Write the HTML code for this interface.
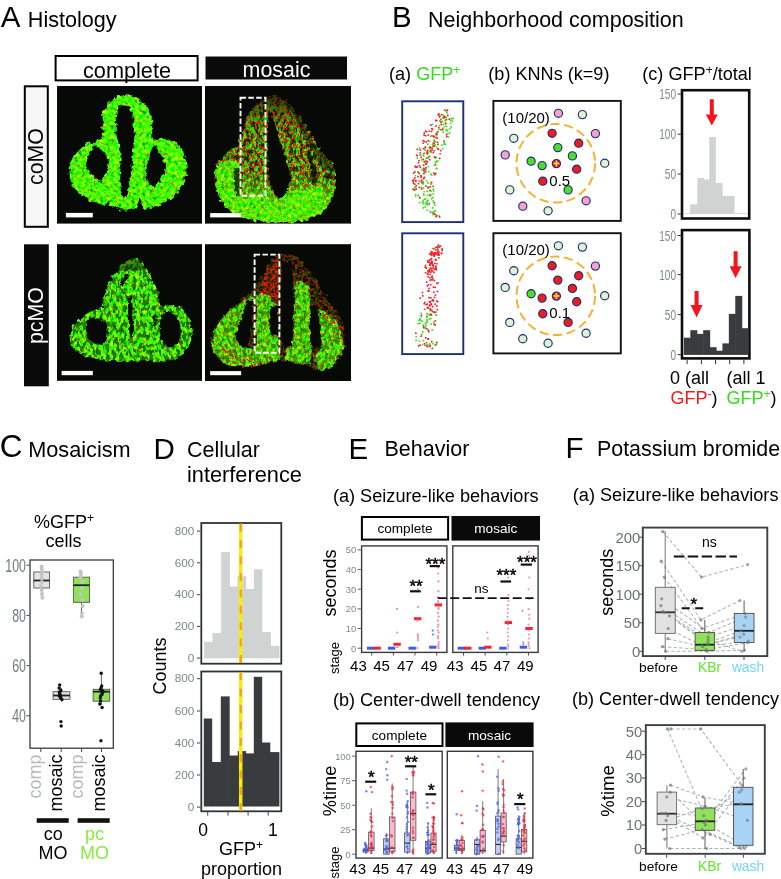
<!DOCTYPE html>
<html lang="en"><head><meta charset="utf-8"><title>Figure</title>
<style>
html,body{margin:0;padding:0;background:#fff;}
body{width:781px;height:879px;overflow:hidden;}
svg{display:block;font-family:'Liberation Sans', Arial, sans-serif;}
</style></head><body>
<svg width="781" height="879" viewBox="0 0 781 879">
<rect width="781" height="879" fill="#fff"/>
<text x="0.8" y="27.3" font-size="29.5" fill="#000" text-anchor="start" >A</text>
<text x="27.8" y="27.3" font-size="21.6" fill="#000" text-anchor="start" >Histology</text>
<text x="392" y="27" font-size="29.5" fill="#000" text-anchor="start" >B</text>
<text x="428" y="27" font-size="21.5" fill="#000" text-anchor="start" >Neighborhood composition</text>
<text x="-0.3" y="457.3" font-size="31.5" fill="#000" text-anchor="start" >C</text>
<text x="28.2" y="457" font-size="21.7" fill="#000" text-anchor="start" >Mosaicism</text>
<text x="153.5" y="458.5" font-size="29.5" fill="#000" text-anchor="start" >D</text>
<text x="187" y="456.5" font-size="21.5" fill="#000" text-anchor="start" >Cellular</text>
<text x="187" y="482" font-size="21.75" fill="#000" text-anchor="start" >interference</text>
<text x="348.5" y="458.5" font-size="29.5" fill="#000" text-anchor="start" >E</text>
<text x="384.5" y="456" font-size="21.5" fill="#000" text-anchor="start" >Behavior</text>
<text x="565.5" y="457.5" font-size="29.5" fill="#000" text-anchor="start" >F</text>
<text x="597" y="455.5" font-size="21.4" fill="#000" text-anchor="start" >Potassium bromide</text>
<g id="panelA">
<rect x="55.6" y="56" width="142" height="24.4" fill="#fff" stroke="#000" stroke-width="2"/>
<text x="127" y="77.6" font-size="21.7" fill="#000" text-anchor="middle" >complete</text>
<rect x="205.5" y="56.5" width="141.5" height="23" fill="#0a0a0a"/>
<text x="276.5" y="76.8" font-size="21.4" fill="#fff" text-anchor="middle" >mosaic</text>
<rect x="24.8" y="86.3" width="23" height="140.5" fill="#f6f6f6" stroke="#000" stroke-width="2"/>
<text x="43.2" y="156.5" font-size="21.4" fill="#000" text-anchor="middle" transform="rotate(-90 43.2 156.5)" >coMO</text>
<rect x="24" y="244.3" width="24.8" height="142" fill="#0a0a0a"/>
<text x="43.2" y="315.5" font-size="21.4" fill="#fff" text-anchor="middle" transform="rotate(-90 43.2 315.5)" >pcMO</text>
<rect x="57" y="86" width="145" height="137.6" fill="#070907"/>
<rect x="205" y="86" width="146" height="137.6" fill="#070907"/>
<rect x="57" y="244.2" width="145" height="136.6" fill="#070907"/>
<rect x="205" y="244.2" width="146" height="136.8" fill="#070907"/>
<defs>
<filter id="tis" x="-15%" y="-15%" width="130%" height="130%" color-interpolation-filters="sRGB">
  <feTurbulence type="fractalNoise" baseFrequency="0.2" numOctaves="2" seed="3" result="n"/>
  <feDisplacementMap in="SourceGraphic" in2="n" scale="7" xChannelSelector="R" yChannelSelector="G" result="d"/>
  <feTurbulence type="fractalNoise" baseFrequency="0.28" numOctaves="2" seed="8" result="n2"/>
  <feColorMatrix in="n2" type="matrix" values="2.2 0 0 0 -0.68  0 1.9 0 0 0.12  0 0 0 0 0.06  0 0 0 0 1" result="tex"/>
  <feComposite in="tex" in2="d" operator="in" result="texd"/>
  <feBlend in="texd" in2="d" mode="multiply" result="m"/>
  <feComposite in="m" in2="d" operator="in"/>
</filter>
<filter id="speck" x="-15%" y="-15%" width="130%" height="130%" color-interpolation-filters="sRGB">
  <feTurbulence type="fractalNoise" baseFrequency="0.2" numOctaves="2" seed="3" result="n"/>
  <feDisplacementMap in="SourceGraphic" in2="n" scale="7" xChannelSelector="R" yChannelSelector="G" result="d"/>
  <feTurbulence type="fractalNoise" baseFrequency="0.45" numOctaves="1" seed="21" result="n2"/>
  <feColorMatrix in="n2" type="matrix" values="0 0 0 0 0.93  0 0 0 0 0.08  0 0 0 0 0.03  10 0 0 0 -5.1" result="rs"/>
  <feComposite in="rs" in2="d" operator="in"/>
</filter>
<filter id="dspeck" x="-15%" y="-15%" width="130%" height="130%" color-interpolation-filters="sRGB">
  <feTurbulence type="fractalNoise" baseFrequency="0.2" numOctaves="2" seed="3" result="n"/>
  <feDisplacementMap in="SourceGraphic" in2="n" scale="7" xChannelSelector="R" yChannelSelector="G" result="d"/>
  <feTurbulence type="fractalNoise" baseFrequency="0.3 0.18" numOctaves="2" seed="33" result="n2"/>
  <feColorMatrix in="n2" type="matrix" values="0 0 0 0 0.03  0 0 0 0 0.035  0 0 0 0 0.03  0 9 0 0 -4.3" result="rs"/>
  <feComposite in="rs" in2="d" operator="in"/>
</filter>
<filter id="dark" x="-15%" y="-15%" width="130%" height="130%" color-interpolation-filters="sRGB">
  <feTurbulence type="fractalNoise" baseFrequency="0.25" numOctaves="2" seed="12" result="n"/>
  <feDisplacementMap in="SourceGraphic" in2="n" scale="5" xChannelSelector="R" yChannelSelector="G"/>
</filter>
<linearGradient id="g2" x1="0" y1="0" x2="0" y2="1"><stop offset="0" stop-color="#1e3206"/><stop offset="0.14" stop-color="#5ea012"/><stop offset="0.3" stop-color="#8ee016"/><stop offset="0.55" stop-color="#8ee016"/><stop offset="0.78" stop-color="#b6ff18"/><stop offset="1" stop-color="#c8ff1c"/></linearGradient>
<linearGradient id="r2" x1="0" y1="0" x2="0" y2="1"><stop offset="0" stop-color="#f00" stop-opacity="0.35"/><stop offset="0.14" stop-color="#f00" stop-opacity="1"/><stop offset="0.62" stop-color="#f00" stop-opacity="0.95"/><stop offset="0.82" stop-color="#f00" stop-opacity="0.3"/><stop offset="1" stop-color="#f00" stop-opacity="0.1"/></linearGradient>
<linearGradient id="d2" x1="0" y1="0" x2="0" y2="1"><stop offset="0" stop-color="#000" stop-opacity="0.85"/><stop offset="0.6" stop-color="#000" stop-opacity="0.8"/><stop offset="0.8" stop-color="#000" stop-opacity="0.25"/><stop offset="1" stop-color="#000" stop-opacity="0.05"/></linearGradient>
</defs>
<path d="M 122.9 95.3 C 114.6 96.2 106.2 102.7 103.4 113.8 C 101.6 123.1 102.5 132.4 103.4 138.9 C 94.1 138.9 81.1 145.4 73.7 156.6 C 68.1 165.8 68.1 178.8 73.7 187.2 C 81.1 197.4 97.8 204.8 112.7 207.6 C 118.3 209.5 127.6 210.8 131.3 208.5 C 136.8 210.8 144.3 210.4 149.8 208.5 C 164.7 204.8 177.7 195.5 184.2 182.5 C 188.8 171.4 187.0 156.6 179.5 145.4 C 174.0 138.9 162.8 138.0 152.6 139.8 C 152.6 132.4 152.1 123.1 149.8 113.8 C 146.1 102.7 136.8 95.3 129.4 94.9 Z" filter="url(#tis)" fill="#b4ff20"/>
<g filter="url(#dark)">
<path d="M 118.3 107.4 C 114.9 113.8 114.9 132.4 117.9 141.7 C 120.5 147.3 121.2 156.6 120.5 165.8 C 119.8 178.8 120.5 190.0 122.9 197.0 L 126.4 197.0 C 129.4 190.0 130.2 178.8 131.6 167.7 C 132.6 156.6 133.1 147.3 134.1 141.7 C 135.7 132.4 133.1 113.8 129.8 107.4 C 127.2 104.9 121.1 104.9 118.3 107.4 Z" fill="#070907"/>
<path d="M 95.1 145.0 C 99.7 147.3 105.6 153.8 109.0 160.6 C 108.2 168.6 104.9 177.0 100.4 181.1 C 95.1 179.8 88.9 173.3 85.8 165.8 C 87.1 157.5 90.4 149.1 95.1 145.0 Z" fill="#070907"/>
<path d="M 153.2 143.2 C 158.7 149.1 164.7 160.3 166.2 167.7 C 162.8 176.0 158.2 184.4 154.5 187.7 C 149.8 184.4 146.1 178.5 144.6 172.3 C 147.6 163.1 150.8 152.8 153.2 143.2 Z" fill="#070907"/>
<path d="M 101.6 212.3 L 107.9 200.2 L 112.7 212.6 Z M 135.0 213.2 L 139.8 197.0 L 144.6 213.2 Z" fill="#070907"/>
</g>
<rect x="65.9" y="212.9" width="26.9" height="4.5" fill="#fff"/>
<path d="M 269.5 96.3 C 261.1 101.0 251.7 108.4 248.0 115.9 C 243.3 125.3 241.5 134.6 238.7 144.0 C 229.3 151.4 218.1 158.9 215.3 168.3 C 212.5 183.2 218.1 198.2 225.6 207.5 C 234.9 216.9 257.3 222.5 279.8 222.5 C 298.5 222.1 313.4 218.7 322.8 213.1 C 332.1 201.9 336.8 187.0 335.9 172.0 C 334.0 162.6 326.5 157.0 320.9 151.4 C 315.3 142.1 306.0 123.4 294.7 110.3 C 289.1 102.8 279.8 97.2 276.0 96.3 Z" filter="url(#tis)" fill="url(#g2)"/>
<path d="M 269.5 96.3 C 261.1 101.0 251.7 108.4 248.0 115.9 C 243.3 125.3 241.5 134.6 238.7 144.0 C 229.3 151.4 218.1 158.9 215.3 168.3 C 212.5 183.2 218.1 198.2 225.6 207.5 C 234.9 216.9 257.3 222.5 279.8 222.5 C 298.5 222.1 313.4 218.7 322.8 213.1 C 332.1 201.9 336.8 187.0 335.9 172.0 C 334.0 162.6 326.5 157.0 320.9 151.4 C 315.3 142.1 306.0 123.4 294.7 110.3 C 289.1 102.8 279.8 97.2 276.0 96.3 Z" filter="url(#dspeck)" fill="url(#d2)"/>
<path d="M 269.5 96.3 C 261.1 101.0 251.7 108.4 248.0 115.9 C 243.3 125.3 241.5 134.6 238.7 144.0 C 229.3 151.4 218.1 158.9 215.3 168.3 C 212.5 183.2 218.1 198.2 225.6 207.5 C 234.9 216.9 257.3 222.5 279.8 222.5 C 298.5 222.1 313.4 218.7 322.8 213.1 C 332.1 201.9 336.8 187.0 335.9 172.0 C 334.0 162.6 326.5 157.0 320.9 151.4 C 315.3 142.1 306.0 123.4 294.7 110.3 C 289.1 102.8 279.8 97.2 276.0 96.3 Z" filter="url(#speck)" fill="url(#r2)"/>
<g filter="url(#tis)">
<path d="M 216.2 166.4 C 223.7 159.8 233.0 159.8 239.0 163.6 L 240.5 198.2 L 279.8 201.0 L 291.0 192.6 L 320.9 187.0 L 326.5 205.6 C 317.2 216.9 298.5 221.5 279.8 222.1 C 257.3 222.1 234.9 216.9 225.6 207.5 C 218.1 198.2 213.4 183.2 216.2 166.4 Z" fill="#b4ff20"/>
</g>
<path d="M 216.2 166.4 C 223.7 159.8 233.0 159.8 239.0 163.6 L 240.5 198.2 L 279.8 201.0 L 291.0 192.6 L 320.9 187.0 L 326.5 205.6 C 317.2 216.9 298.5 221.5 279.8 222.1 C 257.3 222.1 234.9 216.9 225.6 207.5 C 218.1 198.2 213.4 183.2 216.2 166.4 Z" filter="url(#speck)" fill="#f00" fill-opacity="0.22"/>
<g filter="url(#dark)">
<path d="M 268.6 110.3 C 267.6 132.7 266.7 157.0 268.2 173.9 C 269.5 187.0 275.1 198.2 279.8 198.2 C 285.4 197.2 290.1 187.0 290.1 175.7 C 287.3 160.8 279.8 142.1 274.5 123.4 C 272.3 115.9 270.4 112.2 268.6 110.3 Z" fill="#070907"/>
<path d="M 234.9 168.3 C 233.0 177.6 234.0 187.0 236.8 196.3 L 239.8 196.3 L 239.8 168.3 Z" fill="#070907" opacity="0.75"/>
<path d="M 308.8 149.6 C 313.4 158.9 317.2 170.1 316.8 183.2 L 311.6 184.1 C 311.9 172.0 309.7 160.8 306.0 153.3 Z" fill="#070907" opacity="0.8"/>
<path d="M 324.6 173.9 L 334.0 175.7 L 332.1 179.5 L 324.6 177.6 Z" fill="#070907" opacity="0.8"/>
<path d="M 292.9 106.6 C 302.2 117.8 309.7 134.6 317.2 147.7 C 324.6 155.2 334.0 162.6 336.2 172.0 L 324.6 170.1 C 317.2 160.8 309.7 147.7 304.1 136.5 C 298.5 123.4 292.9 114.0 287.3 104.7 Z" fill="#070907" opacity="0.5"/>
</g>
<rect x="240.5" y="97.7" width="25" height="98.1" fill="none" stroke="#fff" stroke-width="1.9" stroke-dasharray="5.5 2.35"/>
<rect x="210.2" y="213.1" width="30.9" height="4.3" fill="#fff"/>
<path d="M 131.3 257.4 C 125.7 260.7 118.3 268.1 109.9 280.2 C 105.6 290.4 103.4 299.7 101.6 307.1 C 94.1 309.9 81.1 316.4 73.3 325.7 C 68.1 335.0 70.0 346.1 77.4 351.7 C 88.6 358.2 103.4 361.0 112.7 361.0 L 149.8 361.3 C 161.0 361.3 170.3 360.6 176.8 358.7 C 187.0 351.7 193.5 340.5 192.5 329.4 C 191.6 318.3 185.1 309.0 175.8 306.2 C 170.3 304.9 164.7 305.6 160.6 307.1 C 159.1 297.8 156.3 286.7 151.7 277.4 C 148.0 268.1 140.5 259.8 135.0 257.4 Z" filter="url(#tis)" fill="#b4ff20"/>
<path d="M 131.3 257.4 C 125.7 260.7 118.3 268.1 109.9 280.2 C 105.6 290.4 103.4 299.7 101.6 307.1 C 94.1 309.9 81.1 316.4 73.3 325.7 C 68.1 335.0 70.0 346.1 77.4 351.7 C 88.6 358.2 103.4 361.0 112.7 361.0 L 149.8 361.3 C 161.0 361.3 170.3 360.6 176.8 358.7 C 187.0 351.7 193.5 340.5 192.5 329.4 C 191.6 318.3 185.1 309.0 175.8 306.2 C 170.3 304.9 164.7 305.6 160.6 307.1 C 159.1 297.8 156.3 286.7 151.7 277.4 C 148.0 268.1 140.5 259.8 135.0 257.4 Z" filter="url(#dspeck)" fill="#000" fill-opacity="0.55"/>
<g filter="url(#dark)">
<path d="M 90.0 317.9 C 96.0 317.3 103.4 320.1 106.2 323.8 C 109.0 331.3 108.1 338.7 104.3 342.4 C 98.8 346.1 92.3 344.3 88.6 339.6 C 83.9 333.1 84.8 322.0 90.0 317.9 Z" fill="#070907"/>
<path d="M 163.8 312.3 C 170.3 309.9 177.7 314.6 179.9 323.8 C 182.3 333.1 180.5 342.4 174.0 346.5 C 168.4 348.3 162.8 345.2 161.0 338.7 C 159.1 329.4 159.1 318.3 163.8 312.3 Z" fill="#070907"/>
<path d="M 125.7 273.7 L 129.8 271.8 C 127.6 279.3 124.8 283.0 122.4 285.8 L 119.8 283.9 C 122.4 281.1 124.2 277.4 125.7 273.7 Z" fill="#070907"/>
<path d="M 128.1 296.0 L 131.6 295.1 C 132.2 309.0 133.5 323.8 132.8 336.8 L 129.8 337.8 C 129.4 323.8 127.6 309.0 128.1 296.0 Z" fill="#070907"/>
<path d="M 153.5 315.5 L 156.9 314.6 L 156.3 325.7 L 153.5 326.6 Z" fill="#070907" opacity="0.85"/>
<path d="M 131.3 257.4 C 125.7 260.7 120.1 266.3 116.4 270.9 L 146.1 269.1 C 142.4 262.6 138.7 258.9 135.0 257.4 Z" fill="#070907" opacity="0.45"/>
</g>
<rect x="61.6" y="370.9" width="31.2" height="4.3" fill="#fff"/>
<path d="M 279.8 253.3 C 270.4 260.8 261.1 273.9 251.7 292.6 C 238.7 302.0 220.0 313.2 212.5 331.9 C 207.8 345.0 216.2 359.9 229.3 367.4 C 246.1 367.4 264.8 365.5 279.8 360.8 C 292.9 361.8 306.0 365.5 317.2 371.1 C 328.4 371.1 339.6 363.6 344.3 348.7 C 347.1 333.7 341.5 318.8 332.1 307.6 C 324.6 292.6 309.7 268.3 294.7 255.2 Z" filter="url(#tis)" fill="#2c420a"/>
<path d="M 279.8 253.3 C 270.4 260.8 261.1 273.9 251.7 292.6 C 238.7 302.0 220.0 313.2 212.5 331.9 C 207.8 345.0 216.2 359.9 229.3 367.4 C 246.1 367.4 264.8 365.5 279.8 360.8 C 292.9 361.8 306.0 365.5 317.2 371.1 C 328.4 371.1 339.6 363.6 344.3 348.7 C 347.1 333.7 341.5 318.8 332.1 307.6 C 324.6 292.6 309.7 268.3 294.7 255.2 Z" filter="url(#dspeck)" fill="#000"/>
<path d="M 279.8 253.3 C 270.4 260.8 261.1 273.9 251.7 292.6 C 238.7 302.0 220.0 313.2 212.5 331.9 C 207.8 345.0 216.2 359.9 229.3 367.4 C 246.1 367.4 264.8 365.5 279.8 360.8 C 292.9 361.8 306.0 365.5 317.2 371.1 C 328.4 371.1 339.6 363.6 344.3 348.7 C 347.1 333.7 341.5 318.8 332.1 307.6 C 324.6 292.6 309.7 268.3 294.7 255.2 Z" filter="url(#speck)" fill="#f00" fill-opacity="0.6"/>
<g filter="url(#tis)">
<path d="M 251.7 295.4 C 238.7 302.0 221.8 313.2 213.4 331.9 C 208.7 345.0 216.2 359.0 229.3 366.5 C 246.1 366.5 264.8 364.6 279.8 359.9 L 279.8 349.6 L 254.5 349.6 C 248.0 348.7 245.2 341.2 246.1 331.9 C 247.1 318.8 249.9 305.7 254.0 298.2 Z" fill="#b4ff20"/>
<path d="M 256.4 293.5 L 268.6 294.5 L 277.0 305.7 L 278.8 352.4 L 255.5 352.4 Z" fill="#b4ff20"/>
<path d="M 294.7 281.4 C 302.2 279.5 308.8 285.1 310.6 294.5 L 311.6 363.6 C 304.1 365.5 292.9 363.6 284.5 360.8 L 287.3 348.7 L 292.9 345.0 Z" fill="#b4ff20"/>
<path d="M 319.0 309.4 C 328.4 309.4 341.5 322.5 343.7 341.2 C 343.3 358.0 332.1 370.2 318.1 370.8 L 313.4 356.2 L 320.9 348.7 Z" fill="#b4ff20"/>
</g>
<path d="M 279.8 253.3 C 270.4 260.8 261.1 273.9 251.7 292.6 C 238.7 302.0 220.0 313.2 212.5 331.9 C 207.8 345.0 216.2 359.9 229.3 367.4 C 246.1 367.4 264.8 365.5 279.8 360.8 C 292.9 361.8 306.0 365.5 317.2 371.1 C 328.4 371.1 339.6 363.6 344.3 348.7 C 347.1 333.7 341.5 318.8 332.1 307.6 C 324.6 292.6 309.7 268.3 294.7 255.2 Z" filter="url(#dspeck)" fill="#000" fill-opacity="0.4"/>
<path d="M 279.8 253.3 C 270.4 260.8 261.1 273.9 251.7 292.6 C 238.7 302.0 220.0 313.2 212.5 331.9 C 207.8 345.0 216.2 359.9 229.3 367.4 C 246.1 367.4 264.8 365.5 279.8 360.8 C 292.9 361.8 306.0 365.5 317.2 371.1 C 328.4 371.1 339.6 363.6 344.3 348.7 C 347.1 333.7 341.5 318.8 332.1 307.6 C 324.6 292.6 309.7 268.3 294.7 255.2 Z" filter="url(#speck)" fill="#f00" fill-opacity="0.3"/>
<path d="M 279.8 255.2 C 273.2 261.8 267.6 271.1 262.0 282.3 L 262.0 293.5 L 269.5 296.3 L 279.4 304.8 L 281.3 261.8 Z" filter="url(#tis)" fill="#ff2a1a" opacity="0.6"/>
<path d="M 279.8 253.3 C 272.3 260.8 266.7 270.2 261.1 281.4 L 261.1 294.5 L 269.5 297.3 L 279.8 305.7 L 281.6 260.8 Z" filter="url(#speck)" fill="#f00"/>
<path d="M 324.6 309.4 C 335.9 316.9 344.3 328.1 344.3 341.2 L 335.9 337.5 C 334.0 328.1 328.4 318.8 320.9 315.0 Z" filter="url(#speck)" fill="#f00"/>
<path d="M 216.2 341.2 C 227.4 348.7 242.4 356.2 261.1 358.0 L 261.1 365.5 L 229.3 366.5 Z" filter="url(#speck)" fill="#f60" fill-opacity="0.9"/>
<g filter="url(#dark)">
<path d="M 281.6 260.8 C 279.8 281.4 279.8 318.8 282.0 345.0 L 291.4 345.9 C 293.8 318.8 294.4 281.4 291.9 261.8 Z" fill="#070907"/>
<path d="M 247.1 300.1 C 244.3 309.4 240.5 322.5 235.8 331.9 C 234.9 341.2 238.7 348.7 248.0 347.8 L 251.7 326.3 L 253.2 300.1 Z" fill="#070907"/>
<path d="M 311.2 305.7 C 308.8 318.8 309.7 337.5 312.5 349.6 L 320.5 347.8 C 321.3 333.7 319.0 318.8 316.2 306.6 Z" fill="#070907"/>
<path d="M 270.8 305.7 C 268.9 315.0 268.9 326.3 270.8 334.7 L 278.3 334.7 L 278.3 305.7 Z" fill="#070907"/>
</g>
<rect x="254.6" y="254.6" width="24.8" height="98.1" fill="none" stroke="#fff" stroke-width="1.9" stroke-dasharray="5.5 2.35"/>
<rect x="210.2" y="371.1" width="30.9" height="4.1" fill="#fff"/>
</g>
<g id="panelB">
<text x="389" y="80" font-size="18.1" fill="#000" text-anchor="start" >(a) <tspan fill="#35dc1e">GFP</tspan><tspan fill="#35dc1e" dy="-6" font-size="12">+</tspan></text>
<text x="488.3" y="80" font-size="18.1" fill="#000" text-anchor="start" >(b) KNNs (k=9)</text>
<text x="642.3" y="80" font-size="18.1" fill="#000" text-anchor="start" >(c) GFP<tspan dy="-6" font-size="12">+</tspan><tspan dy="6">/total</tspan></text>
<rect x="402.2" y="101.3" width="61.1" height="120.8" fill="#fff" stroke="#1b2f7c" stroke-width="1.9"/>
<rect x="402.2" y="233.3" width="61.1" height="120.8" fill="#fff" stroke="#1b2f7c" stroke-width="1.9"/>
<rect x="493.4" y="100.9" width="127.4" height="120" fill="#fff" stroke="#111" stroke-width="1.9"/>
<rect x="493.4" y="233.2" width="127.4" height="120.2" fill="#fff" stroke="#111" stroke-width="1.9"/>
<rect x="431.1" y="135.1" width="1.7" height="1.7" rx="0.5" fill="#f5222a"/>
<rect x="445.3" y="116.3" width="1.7" height="1.7" rx="0.5" fill="#3fe01f"/>
<rect x="425.9" y="160.4" width="1.7" height="1.7" rx="0.5" fill="#f5222a"/>
<rect x="422.9" y="178.3" width="1.7" height="1.7" rx="0.5" fill="#3fe01f"/>
<rect x="443.9" y="116.2" width="1.7" height="1.7" rx="0.5" fill="#3fe01f"/>
<rect x="435.5" y="160.6" width="1.7" height="1.7" rx="0.5" fill="#3fe01f"/>
<rect x="427.4" y="152.2" width="1.7" height="1.7" rx="0.5" fill="#3fe01f"/>
<rect x="435.8" y="119.8" width="1.7" height="1.7" rx="0.5" fill="#f5222a"/>
<rect x="422.7" y="177.4" width="1.7" height="1.7" rx="0.5" fill="#f5222a"/>
<rect x="433.0" y="172.9" width="1.7" height="1.7" rx="0.5" fill="#3fe01f"/>
<rect x="429.8" y="182.2" width="1.7" height="1.7" rx="0.5" fill="#3fe01f"/>
<rect x="417.2" y="171.1" width="1.7" height="1.7" rx="0.5" fill="#f5222a"/>
<rect x="443.2" y="140.2" width="1.7" height="1.7" rx="0.5" fill="#f5222a"/>
<rect x="418.6" y="196.3" width="1.7" height="1.7" rx="0.5" fill="#3fe01f"/>
<rect x="437.4" y="114.0" width="1.7" height="1.7" rx="0.5" fill="#f5222a"/>
<rect x="422.8" y="164.2" width="1.7" height="1.7" rx="0.5" fill="#f5222a"/>
<rect x="437.1" y="130.7" width="1.7" height="1.7" rx="0.5" fill="#3fe01f"/>
<rect x="443.2" y="143.3" width="1.7" height="1.7" rx="0.5" fill="#3fe01f"/>
<rect x="427.4" y="165.8" width="1.7" height="1.7" rx="0.5" fill="#3fe01f"/>
<rect x="431.8" y="211.5" width="1.7" height="1.7" rx="0.5" fill="#3fe01f"/>
<rect x="432.6" y="142.0" width="1.7" height="1.7" rx="0.5" fill="#f5222a"/>
<rect x="415.7" y="154.4" width="1.7" height="1.7" rx="0.5" fill="#f5222a"/>
<rect x="443.4" y="115.7" width="1.7" height="1.7" rx="0.5" fill="#f5222a"/>
<rect x="414.4" y="186.1" width="1.7" height="1.7" rx="0.5" fill="#3fe01f"/>
<rect x="435.1" y="136.5" width="1.7" height="1.7" rx="0.5" fill="#f5222a"/>
<rect x="424.2" y="149.4" width="1.7" height="1.7" rx="0.5" fill="#3fe01f"/>
<rect x="446.2" y="112.1" width="1.7" height="1.7" rx="0.5" fill="#3fe01f"/>
<rect x="432.9" y="135.2" width="1.7" height="1.7" rx="0.5" fill="#f5222a"/>
<rect x="441.0" y="144.2" width="1.7" height="1.7" rx="0.5" fill="#3fe01f"/>
<rect x="442.2" y="127.6" width="1.7" height="1.7" rx="0.5" fill="#f5222a"/>
<rect x="436.2" y="133.7" width="1.7" height="1.7" rx="0.5" fill="#3fe01f"/>
<rect x="445.7" y="129.2" width="1.7" height="1.7" rx="0.5" fill="#3fe01f"/>
<rect x="424.6" y="146.8" width="1.7" height="1.7" rx="0.5" fill="#f5222a"/>
<rect x="428.2" y="146.9" width="1.7" height="1.7" rx="0.5" fill="#3fe01f"/>
<rect x="450.2" y="126.2" width="1.7" height="1.7" rx="0.5" fill="#3fe01f"/>
<rect x="435.7" y="156.5" width="1.7" height="1.7" rx="0.5" fill="#3fe01f"/>
<rect x="420.6" y="181.3" width="1.7" height="1.7" rx="0.5" fill="#f5222a"/>
<rect x="430.0" y="173.2" width="1.7" height="1.7" rx="0.5" fill="#3fe01f"/>
<rect x="422.4" y="207.1" width="1.7" height="1.7" rx="0.5" fill="#3fe01f"/>
<rect x="432.7" y="141.8" width="1.7" height="1.7" rx="0.5" fill="#3fe01f"/>
<rect x="417.2" y="175.8" width="1.7" height="1.7" rx="0.5" fill="#f5222a"/>
<rect x="417.3" y="194.3" width="1.7" height="1.7" rx="0.5" fill="#3fe01f"/>
<rect x="449.1" y="127.8" width="1.7" height="1.7" rx="0.5" fill="#3fe01f"/>
<rect x="425.0" y="203.0" width="1.7" height="1.7" rx="0.5" fill="#3fe01f"/>
<rect x="424.8" y="160.6" width="1.7" height="1.7" rx="0.5" fill="#f5222a"/>
<rect x="426.4" y="202.2" width="1.7" height="1.7" rx="0.5" fill="#3fe01f"/>
<rect x="421.0" y="179.6" width="1.7" height="1.7" rx="0.5" fill="#f5222a"/>
<rect x="423.8" y="169.6" width="1.7" height="1.7" rx="0.5" fill="#f5222a"/>
<rect x="420.3" y="175.0" width="1.7" height="1.7" rx="0.5" fill="#f5222a"/>
<rect x="427.6" y="156.2" width="1.7" height="1.7" rx="0.5" fill="#f5222a"/>
<rect x="415.5" y="184.7" width="1.7" height="1.7" rx="0.5" fill="#f5222a"/>
<rect x="441.9" y="117.0" width="1.7" height="1.7" rx="0.5" fill="#3fe01f"/>
<rect x="433.3" y="149.9" width="1.7" height="1.7" rx="0.5" fill="#f5222a"/>
<rect x="430.9" y="197.7" width="1.7" height="1.7" rx="0.5" fill="#3fe01f"/>
<rect x="413.7" y="189.0" width="1.7" height="1.7" rx="0.5" fill="#f5222a"/>
<rect x="438.6" y="124.8" width="1.7" height="1.7" rx="0.5" fill="#3fe01f"/>
<rect x="445.4" y="128.7" width="1.7" height="1.7" rx="0.5" fill="#3fe01f"/>
<rect x="412.8" y="172.2" width="1.7" height="1.7" rx="0.5" fill="#f5222a"/>
<rect x="427.2" y="187.0" width="1.7" height="1.7" rx="0.5" fill="#f5222a"/>
<rect x="432.9" y="144.5" width="1.7" height="1.7" rx="0.5" fill="#f5222a"/>
<rect x="420.4" y="176.2" width="1.7" height="1.7" rx="0.5" fill="#f5222a"/>
<rect x="418.6" y="147.3" width="1.7" height="1.7" rx="0.5" fill="#3fe01f"/>
<rect x="419.4" y="154.1" width="1.7" height="1.7" rx="0.5" fill="#f5222a"/>
<rect x="421.1" y="182.5" width="1.7" height="1.7" rx="0.5" fill="#3fe01f"/>
<rect x="445.6" y="125.5" width="1.7" height="1.7" rx="0.5" fill="#3fe01f"/>
<rect x="425.7" y="157.4" width="1.7" height="1.7" rx="0.5" fill="#f5222a"/>
<rect x="437.1" y="143.5" width="1.7" height="1.7" rx="0.5" fill="#f5222a"/>
<rect x="429.4" y="185.9" width="1.7" height="1.7" rx="0.5" fill="#f5222a"/>
<rect x="435.3" y="132.9" width="1.7" height="1.7" rx="0.5" fill="#f5222a"/>
<rect x="437.6" y="148.4" width="1.7" height="1.7" rx="0.5" fill="#f5222a"/>
<rect x="431.0" y="174.4" width="1.7" height="1.7" rx="0.5" fill="#3fe01f"/>
<rect x="434.6" y="161.6" width="1.7" height="1.7" rx="0.5" fill="#3fe01f"/>
<rect x="432.3" y="213.7" width="1.7" height="1.7" rx="0.5" fill="#3fe01f"/>
<rect x="429.7" y="135.5" width="1.7" height="1.7" rx="0.5" fill="#3fe01f"/>
<rect x="431.9" y="207.1" width="1.7" height="1.7" rx="0.5" fill="#3fe01f"/>
<rect x="445.3" y="118.6" width="1.7" height="1.7" rx="0.5" fill="#3fe01f"/>
<rect x="417.6" y="182.7" width="1.7" height="1.7" rx="0.5" fill="#f5222a"/>
<rect x="448.8" y="132.1" width="1.7" height="1.7" rx="0.5" fill="#3fe01f"/>
<rect x="444.4" y="122.2" width="1.7" height="1.7" rx="0.5" fill="#3fe01f"/>
<rect x="439.4" y="119.8" width="1.7" height="1.7" rx="0.5" fill="#3fe01f"/>
<rect x="436.8" y="141.4" width="1.7" height="1.7" rx="0.5" fill="#f5222a"/>
<rect x="412.6" y="182.4" width="1.7" height="1.7" rx="0.5" fill="#f5222a"/>
<rect x="422.7" y="187.3" width="1.7" height="1.7" rx="0.5" fill="#3fe01f"/>
<rect x="441.7" y="128.7" width="1.7" height="1.7" rx="0.5" fill="#f5222a"/>
<rect x="433.8" y="145.3" width="1.7" height="1.7" rx="0.5" fill="#3fe01f"/>
<rect x="421.1" y="159.0" width="1.7" height="1.7" rx="0.5" fill="#3fe01f"/>
<rect x="423.3" y="168.3" width="1.7" height="1.7" rx="0.5" fill="#3fe01f"/>
<rect x="440.8" y="113.8" width="1.7" height="1.7" rx="0.5" fill="#f5222a"/>
<rect x="432.1" y="145.4" width="1.7" height="1.7" rx="0.5" fill="#f5222a"/>
<rect x="425.4" y="201.3" width="1.7" height="1.7" rx="0.5" fill="#3fe01f"/>
<rect x="415.3" y="188.3" width="1.7" height="1.7" rx="0.5" fill="#f5222a"/>
<rect x="424.6" y="197.9" width="1.7" height="1.7" rx="0.5" fill="#3fe01f"/>
<rect x="419.4" y="166.6" width="1.7" height="1.7" rx="0.5" fill="#f5222a"/>
<rect x="432.0" y="196.6" width="1.7" height="1.7" rx="0.5" fill="#3fe01f"/>
<rect x="434.8" y="172.6" width="1.7" height="1.7" rx="0.5" fill="#f5222a"/>
<rect x="428.4" y="202.8" width="1.7" height="1.7" rx="0.5" fill="#f5222a"/>
<rect x="422.8" y="193.0" width="1.7" height="1.7" rx="0.5" fill="#3fe01f"/>
<rect x="424.8" y="130.3" width="1.7" height="1.7" rx="0.5" fill="#f5222a"/>
<rect x="438.8" y="157.5" width="1.7" height="1.7" rx="0.5" fill="#f5222a"/>
<rect x="414.9" y="195.4" width="1.7" height="1.7" rx="0.5" fill="#3fe01f"/>
<rect x="451.2" y="117.7" width="1.7" height="1.7" rx="0.5" fill="#3fe01f"/>
<rect x="442.6" y="123.8" width="1.7" height="1.7" rx="0.5" fill="#3fe01f"/>
<rect x="428.7" y="189.7" width="1.7" height="1.7" rx="0.5" fill="#3fe01f"/>
<rect x="427.5" y="156.7" width="1.7" height="1.7" rx="0.5" fill="#f5222a"/>
<rect x="436.7" y="131.0" width="1.7" height="1.7" rx="0.5" fill="#f5222a"/>
<rect x="422.9" y="155.1" width="1.7" height="1.7" rx="0.5" fill="#3fe01f"/>
<rect x="439.3" y="152.9" width="1.7" height="1.7" rx="0.5" fill="#f5222a"/>
<rect x="429.7" y="149.6" width="1.7" height="1.7" rx="0.5" fill="#f5222a"/>
<rect x="423.1" y="194.4" width="1.7" height="1.7" rx="0.5" fill="#3fe01f"/>
<rect x="426.5" y="153.1" width="1.7" height="1.7" rx="0.5" fill="#f5222a"/>
<rect x="443.0" y="115.7" width="1.7" height="1.7" rx="0.5" fill="#3fe01f"/>
<rect x="442.7" y="114.8" width="1.7" height="1.7" rx="0.5" fill="#f5222a"/>
<rect x="434.9" y="119.5" width="1.7" height="1.7" rx="0.5" fill="#f5222a"/>
<rect x="445.0" y="122.7" width="1.7" height="1.7" rx="0.5" fill="#f5222a"/>
<rect x="429.3" y="210.7" width="1.7" height="1.7" rx="0.5" fill="#3fe01f"/>
<rect x="435.7" y="146.7" width="1.7" height="1.7" rx="0.5" fill="#3fe01f"/>
<rect x="446.4" y="109.6" width="1.7" height="1.7" rx="0.5" fill="#f5222a"/>
<rect x="415.0" y="180.4" width="1.7" height="1.7" rx="0.5" fill="#f5222a"/>
<rect x="430.1" y="211.5" width="1.7" height="1.7" rx="0.5" fill="#3fe01f"/>
<rect x="445.6" y="118.8" width="1.7" height="1.7" rx="0.5" fill="#f5222a"/>
<rect x="413.8" y="183.2" width="1.7" height="1.7" rx="0.5" fill="#f5222a"/>
<rect x="432.3" y="200.1" width="1.7" height="1.7" rx="0.5" fill="#3fe01f"/>
<rect x="435.2" y="134.2" width="1.7" height="1.7" rx="0.5" fill="#3fe01f"/>
<rect x="420.4" y="175.1" width="1.7" height="1.7" rx="0.5" fill="#f5222a"/>
<rect x="420.9" y="186.5" width="1.7" height="1.7" rx="0.5" fill="#3fe01f"/>
<rect x="449.8" y="119.8" width="1.7" height="1.7" rx="0.5" fill="#3fe01f"/>
<rect x="434.0" y="204.1" width="1.7" height="1.7" rx="0.5" fill="#3fe01f"/>
<rect x="426.9" y="149.5" width="1.7" height="1.7" rx="0.5" fill="#f5222a"/>
<rect x="414.1" y="171.1" width="1.7" height="1.7" rx="0.5" fill="#f5222a"/>
<rect x="446.9" y="114.5" width="1.7" height="1.7" rx="0.5" fill="#f5222a"/>
<rect x="427.3" y="134.2" width="1.7" height="1.7" rx="0.5" fill="#f5222a"/>
<rect x="428.8" y="194.2" width="1.7" height="1.7" rx="0.5" fill="#f5222a"/>
<rect x="438.2" y="128.5" width="1.7" height="1.7" rx="0.5" fill="#3fe01f"/>
<rect x="425.7" y="130.9" width="1.7" height="1.7" rx="0.5" fill="#f5222a"/>
<rect x="427.0" y="199.4" width="1.7" height="1.7" rx="0.5" fill="#3fe01f"/>
<rect x="429.2" y="146.9" width="1.7" height="1.7" rx="0.5" fill="#f5222a"/>
<rect x="424.6" y="197.8" width="1.7" height="1.7" rx="0.5" fill="#3fe01f"/>
<rect x="443.0" y="117.6" width="1.7" height="1.7" rx="0.5" fill="#3fe01f"/>
<rect x="428.9" y="155.2" width="1.7" height="1.7" rx="0.5" fill="#3fe01f"/>
<rect x="428.9" y="145.7" width="1.7" height="1.7" rx="0.5" fill="#3fe01f"/>
<rect x="432.4" y="188.2" width="1.7" height="1.7" rx="0.5" fill="#3fe01f"/>
<rect x="435.3" y="167.5" width="1.7" height="1.7" rx="0.5" fill="#3fe01f"/>
<rect x="423.8" y="161.9" width="1.7" height="1.7" rx="0.5" fill="#3fe01f"/>
<rect x="425.4" y="141.0" width="1.7" height="1.7" rx="0.5" fill="#f5222a"/>
<rect x="414.3" y="165.7" width="1.7" height="1.7" rx="0.5" fill="#f5222a"/>
<rect x="433.8" y="156.2" width="1.7" height="1.7" rx="0.5" fill="#f5222a"/>
<rect x="441.5" y="120.5" width="1.7" height="1.7" rx="0.5" fill="#3fe01f"/>
<rect x="432.2" y="185.4" width="1.7" height="1.7" rx="0.5" fill="#f5222a"/>
<rect x="437.9" y="126.8" width="1.7" height="1.7" rx="0.5" fill="#f5222a"/>
<rect x="424.0" y="148.3" width="1.7" height="1.7" rx="0.5" fill="#3fe01f"/>
<rect x="419.0" y="197.0" width="1.7" height="1.7" rx="0.5" fill="#f5222a"/>
<rect x="440.4" y="123.5" width="1.7" height="1.7" rx="0.5" fill="#f5222a"/>
<rect x="432.4" y="193.0" width="1.7" height="1.7" rx="0.5" fill="#3fe01f"/>
<rect x="438.1" y="113.0" width="1.7" height="1.7" rx="0.5" fill="#f5222a"/>
<rect x="442.7" y="114.8" width="1.7" height="1.7" rx="0.5" fill="#3fe01f"/>
<rect x="416.3" y="154.7" width="1.7" height="1.7" rx="0.5" fill="#f5222a"/>
<rect x="422.4" y="182.7" width="1.7" height="1.7" rx="0.5" fill="#3fe01f"/>
<rect x="429.7" y="195.1" width="1.7" height="1.7" rx="0.5" fill="#3fe01f"/>
<rect x="442.1" y="127.6" width="1.7" height="1.7" rx="0.5" fill="#3fe01f"/>
<rect x="436.9" y="160.1" width="1.7" height="1.7" rx="0.5" fill="#3fe01f"/>
<rect x="422.4" y="154.3" width="1.7" height="1.7" rx="0.5" fill="#3fe01f"/>
<rect x="421.0" y="168.7" width="1.7" height="1.7" rx="0.5" fill="#3fe01f"/>
<rect x="422.5" y="158.4" width="1.7" height="1.7" rx="0.5" fill="#f5222a"/>
<rect x="433.3" y="201.8" width="1.7" height="1.7" rx="0.5" fill="#f5222a"/>
<rect x="423.6" y="171.7" width="1.7" height="1.7" rx="0.5" fill="#3fe01f"/>
<rect x="439.0" y="120.4" width="1.7" height="1.7" rx="0.5" fill="#3fe01f"/>
<rect x="428.5" y="130.4" width="1.7" height="1.7" rx="0.5" fill="#f5222a"/>
<rect x="444.7" y="143.6" width="1.7" height="1.7" rx="0.5" fill="#3fe01f"/>
<rect x="419.3" y="151.9" width="1.7" height="1.7" rx="0.5" fill="#f5222a"/>
<rect x="423.3" y="134.2" width="1.7" height="1.7" rx="0.5" fill="#f5222a"/>
<rect x="426.7" y="200.4" width="1.7" height="1.7" rx="0.5" fill="#3fe01f"/>
<rect x="443.4" y="116.8" width="1.7" height="1.7" rx="0.5" fill="#f5222a"/>
<rect x="424.7" y="134.9" width="1.7" height="1.7" rx="0.5" fill="#f5222a"/>
<rect x="411.8" y="179.6" width="1.7" height="1.7" rx="0.5" fill="#f5222a"/>
<rect x="446.9" y="129.8" width="1.7" height="1.7" rx="0.5" fill="#3fe01f"/>
<rect x="426.3" y="150.8" width="1.7" height="1.7" rx="0.5" fill="#f5222a"/>
<rect x="431.5" y="123.5" width="1.7" height="1.7" rx="0.5" fill="#3fe01f"/>
<rect x="452.6" y="117.6" width="1.7" height="1.7" rx="0.5" fill="#3fe01f"/>
<rect x="447.5" y="136.0" width="1.7" height="1.7" rx="0.5" fill="#3fe01f"/>
<rect x="427.0" y="143.3" width="1.7" height="1.7" rx="0.5" fill="#3fe01f"/>
<rect x="424.8" y="171.1" width="1.7" height="1.7" rx="0.5" fill="#f5222a"/>
<rect x="426.4" y="199.8" width="1.7" height="1.7" rx="0.5" fill="#3fe01f"/>
<rect x="440.2" y="128.7" width="1.7" height="1.7" rx="0.5" fill="#f5222a"/>
<rect x="419.6" y="153.7" width="1.7" height="1.7" rx="0.5" fill="#3fe01f"/>
<rect x="415.4" y="166.3" width="1.7" height="1.7" rx="0.5" fill="#f5222a"/>
<rect x="435.2" y="125.1" width="1.7" height="1.7" rx="0.5" fill="#f5222a"/>
<rect x="434.4" y="143.8" width="1.7" height="1.7" rx="0.5" fill="#3fe01f"/>
<rect x="428.9" y="140.4" width="1.7" height="1.7" rx="0.5" fill="#3fe01f"/>
<rect x="424.4" y="146.3" width="1.7" height="1.7" rx="0.5" fill="#f5222a"/>
<rect x="435.2" y="161.2" width="1.7" height="1.7" rx="0.5" fill="#3fe01f"/>
<rect x="416.5" y="157.2" width="1.7" height="1.7" rx="0.5" fill="#3fe01f"/>
<rect x="430.0" y="193.8" width="1.7" height="1.7" rx="0.5" fill="#3fe01f"/>
<rect x="431.2" y="149.1" width="1.7" height="1.7" rx="0.5" fill="#f5222a"/>
<rect x="426.2" y="203.6" width="1.7" height="1.7" rx="0.5" fill="#3fe01f"/>
<rect x="439.9" y="149.7" width="1.7" height="1.7" rx="0.5" fill="#f5222a"/>
<rect x="436.0" y="133.1" width="1.7" height="1.7" rx="0.5" fill="#f5222a"/>
<rect x="433.7" y="140.0" width="1.7" height="1.7" rx="0.5" fill="#f5222a"/>
<rect x="429.3" y="189.4" width="1.7" height="1.7" rx="0.5" fill="#f5222a"/>
<rect x="430.0" y="183.4" width="1.7" height="1.7" rx="0.5" fill="#3fe01f"/>
<rect x="424.2" y="206.1" width="1.7" height="1.7" rx="0.5" fill="#3fe01f"/>
<rect x="440.1" y="118.4" width="1.7" height="1.7" rx="0.5" fill="#f5222a"/>
<rect x="433.3" y="139.0" width="1.7" height="1.7" rx="0.5" fill="#3fe01f"/>
<rect x="412.5" y="181.0" width="1.7" height="1.7" rx="0.5" fill="#f5222a"/>
<rect x="448.4" y="118.3" width="1.7" height="1.7" rx="0.5" fill="#f5222a"/>
<rect x="445.5" y="110.2" width="1.7" height="1.7" rx="0.5" fill="#3fe01f"/>
<rect x="433.3" y="145.3" width="1.7" height="1.7" rx="0.5" fill="#f5222a"/>
<rect x="432.5" y="151.8" width="1.7" height="1.7" rx="0.5" fill="#f5222a"/>
<rect x="417.6" y="171.6" width="1.7" height="1.7" rx="0.5" fill="#3fe01f"/>
<rect x="436.0" y="167.8" width="1.7" height="1.7" rx="0.5" fill="#3fe01f"/>
<rect x="442.4" y="131.2" width="1.7" height="1.7" rx="0.5" fill="#3fe01f"/>
<rect x="441.7" y="147.8" width="1.7" height="1.7" rx="0.5" fill="#3fe01f"/>
<rect x="436.2" y="131.4" width="1.7" height="1.7" rx="0.5" fill="#3fe01f"/>
<rect x="447.0" y="132.7" width="1.7" height="1.7" rx="0.5" fill="#3fe01f"/>
<rect x="423.4" y="132.3" width="1.7" height="1.7" rx="0.5" fill="#f5222a"/>
<rect x="418.7" y="201.8" width="1.7" height="1.7" rx="0.5" fill="#3fe01f"/>
<rect x="431.8" y="128.5" width="1.7" height="1.7" rx="0.5" fill="#f5222a"/>
<rect x="440.1" y="121.3" width="1.7" height="1.7" rx="0.5" fill="#f5222a"/>
<rect x="425.2" y="185.3" width="1.7" height="1.7" rx="0.5" fill="#f5222a"/>
<rect x="423.3" y="190.9" width="1.7" height="1.7" rx="0.5" fill="#3fe01f"/>
<rect x="434.6" y="157.3" width="1.7" height="1.7" rx="0.5" fill="#3fe01f"/>
<rect x="433.1" y="172.2" width="1.7" height="1.7" rx="0.5" fill="#f5222a"/>
<rect x="430.1" y="146.8" width="1.7" height="1.7" rx="0.5" fill="#f5222a"/>
<rect x="413.8" y="188.9" width="1.7" height="1.7" rx="0.5" fill="#3fe01f"/>
<rect x="434.9" y="161.2" width="1.7" height="1.7" rx="0.5" fill="#3fe01f"/>
<rect x="418.3" y="172.6" width="1.7" height="1.7" rx="0.5" fill="#f5222a"/>
<rect x="443.4" y="142.1" width="1.7" height="1.7" rx="0.5" fill="#3fe01f"/>
<rect x="422.5" y="200.1" width="1.7" height="1.7" rx="0.5" fill="#3fe01f"/>
<rect x="431.7" y="147.4" width="1.7" height="1.7" rx="0.5" fill="#f5222a"/>
<rect x="430.2" y="151.1" width="1.7" height="1.7" rx="0.5" fill="#f5222a"/>
<rect x="426.4" y="152.1" width="1.7" height="1.7" rx="0.5" fill="#f5222a"/>
<rect x="438.9" y="115.2" width="1.7" height="1.7" rx="0.5" fill="#f5222a"/>
<rect x="451.5" y="120.2" width="1.7" height="1.7" rx="0.5" fill="#3fe01f"/>
<rect x="423.2" y="152.4" width="1.7" height="1.7" rx="0.5" fill="#f5222a"/>
<rect x="432.6" y="212.3" width="1.7" height="1.7" rx="0.5" fill="#f5222a"/>
<rect x="416.9" y="171.4" width="1.7" height="1.7" rx="0.5" fill="#3fe01f"/>
<rect x="413.6" y="189.0" width="1.7" height="1.7" rx="0.5" fill="#f5222a"/>
<rect x="445.7" y="133.7" width="1.7" height="1.7" rx="0.5" fill="#f5222a"/>
<rect x="421.8" y="181.8" width="1.7" height="1.7" rx="0.5" fill="#3fe01f"/>
<rect x="426.3" y="190.2" width="1.7" height="1.7" rx="0.5" fill="#3fe01f"/>
<rect x="436.3" y="137.2" width="1.7" height="1.7" rx="0.5" fill="#f5222a"/>
<rect x="431.0" y="127.7" width="1.7" height="1.7" rx="0.5" fill="#f5222a"/>
<rect x="412.2" y="188.3" width="1.7" height="1.7" rx="0.5" fill="#f5222a"/>
<rect x="426.3" y="209.4" width="1.7" height="1.7" rx="0.5" fill="#3fe01f"/>
<rect x="417.6" y="161.9" width="1.7" height="1.7" rx="0.5" fill="#f5222a"/>
<rect x="414.6" y="174.9" width="1.7" height="1.7" rx="0.5" fill="#3fe01f"/>
<rect x="429.9" y="124.2" width="1.7" height="1.7" rx="0.5" fill="#f5222a"/>
<rect x="428.8" y="158.8" width="1.7" height="1.7" rx="0.5" fill="#f5222a"/>
<rect x="427.4" y="139.8" width="1.7" height="1.7" rx="0.5" fill="#f5222a"/>
<rect x="438.3" y="214.9" width="1.7" height="1.7" rx="0.5" fill="#3fe01f"/>
<rect x="425.3" y="157.6" width="1.7" height="1.7" rx="0.5" fill="#3fe01f"/>
<rect x="429.7" y="146.8" width="1.7" height="1.7" rx="0.5" fill="#f5222a"/>
<rect x="424.4" y="168.5" width="1.7" height="1.7" rx="0.5" fill="#f5222a"/>
<rect x="430.7" y="130.6" width="1.7" height="1.7" rx="0.5" fill="#f5222a"/>
<rect x="422.2" y="181.3" width="1.7" height="1.7" rx="0.5" fill="#f5222a"/>
<rect x="443.9" y="116.1" width="1.7" height="1.7" rx="0.5" fill="#f5222a"/>
<rect x="414.0" y="177.0" width="1.7" height="1.7" rx="0.5" fill="#f5222a"/>
<rect x="419.3" y="149.0" width="1.7" height="1.7" rx="0.5" fill="#f5222a"/>
<rect x="433.1" y="136.1" width="1.7" height="1.7" rx="0.5" fill="#f5222a"/>
<rect x="427.7" y="186.3" width="1.7" height="1.7" rx="0.5" fill="#f5222a"/>
<rect x="423.4" y="160.6" width="1.7" height="1.7" rx="0.5" fill="#f5222a"/>
<rect x="435.1" y="214.1" width="1.7" height="1.7" rx="0.5" fill="#3fe01f"/>
<rect x="425.1" y="167.0" width="1.7" height="1.7" rx="0.5" fill="#f5222a"/>
<rect x="422.2" y="182.5" width="1.7" height="1.7" rx="0.5" fill="#3fe01f"/>
<rect x="434.4" y="210.0" width="1.7" height="1.7" rx="0.5" fill="#3fe01f"/>
<rect x="418.1" y="159.8" width="1.7" height="1.7" rx="0.5" fill="#f5222a"/>
<rect x="422.9" y="160.7" width="1.7" height="1.7" rx="0.5" fill="#3fe01f"/>
<rect x="433.9" y="213.3" width="1.7" height="1.7" rx="0.5" fill="#f5222a"/>
<rect x="423.0" y="172.8" width="1.7" height="1.7" rx="0.5" fill="#f5222a"/>
<rect x="434.7" y="163.8" width="1.7" height="1.7" rx="0.5" fill="#f5222a"/>
<rect x="433.7" y="156.1" width="1.7" height="1.7" rx="0.5" fill="#f5222a"/>
<rect x="420.8" y="188.1" width="1.7" height="1.7" rx="0.5" fill="#f5222a"/>
<rect x="413.0" y="179.1" width="1.7" height="1.7" rx="0.5" fill="#f5222a"/>
<rect x="428.7" y="150.4" width="1.7" height="1.7" rx="0.5" fill="#3fe01f"/>
<rect x="415.0" y="187.0" width="1.7" height="1.7" rx="0.5" fill="#3fe01f"/>
<rect x="413.7" y="186.8" width="1.7" height="1.7" rx="0.5" fill="#3fe01f"/>
<rect x="449.8" y="122.5" width="1.7" height="1.7" rx="0.5" fill="#3fe01f"/>
<rect x="420.3" y="156.5" width="1.7" height="1.7" rx="0.5" fill="#f5222a"/>
<rect x="431.7" y="143.5" width="1.7" height="1.7" rx="0.5" fill="#3fe01f"/>
<rect x="432.6" y="143.7" width="1.7" height="1.7" rx="0.5" fill="#3fe01f"/>
<rect x="445.9" y="135.7" width="1.7" height="1.7" rx="0.5" fill="#f5222a"/>
<rect x="433.1" y="142.2" width="1.7" height="1.7" rx="0.5" fill="#f5222a"/>
<rect x="433.4" y="164.4" width="1.7" height="1.7" rx="0.5" fill="#3fe01f"/>
<rect x="423.3" y="198.4" width="1.7" height="1.7" rx="0.5" fill="#3fe01f"/>
<rect x="422.7" y="169.9" width="1.7" height="1.7" rx="0.5" fill="#f5222a"/>
<rect x="423.3" y="140.6" width="1.7" height="1.7" rx="0.5" fill="#f5222a"/>
<rect x="430.8" y="181.5" width="1.7" height="1.7" rx="0.5" fill="#f5222a"/>
<rect x="418.6" y="180.4" width="1.7" height="1.7" rx="0.5" fill="#f5222a"/>
<rect x="427.0" y="204.0" width="1.7" height="1.7" rx="0.5" fill="#3fe01f"/>
<rect x="422.7" y="168.3" width="1.7" height="1.7" rx="0.5" fill="#3fe01f"/>
<rect x="427.4" y="156.8" width="1.7" height="1.7" rx="0.5" fill="#3fe01f"/>
<rect x="426.5" y="161.3" width="1.7" height="1.7" rx="0.5" fill="#f5222a"/>
<rect x="416.3" y="148.5" width="1.7" height="1.7" rx="0.5" fill="#f5222a"/>
<rect x="425.0" y="163.1" width="1.7" height="1.7" rx="0.5" fill="#f5222a"/>
<rect x="438.8" y="216.0" width="1.7" height="1.7" rx="0.5" fill="#f5222a"/>
<rect x="450.4" y="117.7" width="1.7" height="1.7" rx="0.5" fill="#3fe01f"/>
<rect x="435.3" y="215.8" width="1.7" height="1.7" rx="0.5" fill="#f5222a"/>
<rect x="432.8" y="190.1" width="1.7" height="1.7" rx="0.5" fill="#3fe01f"/>
<rect x="425.2" y="168.9" width="1.7" height="1.7" rx="0.5" fill="#3fe01f"/>
<rect x="422.3" y="139.7" width="1.7" height="1.7" rx="0.5" fill="#f5222a"/>
<rect x="418.6" y="164.8" width="1.7" height="1.7" rx="0.5" fill="#f5222a"/>
<rect x="423.6" y="176.6" width="1.7" height="1.7" rx="0.5" fill="#f5222a"/>
<rect x="435.9" y="214.7" width="1.7" height="1.7" rx="0.5" fill="#f5222a"/>
<rect x="416.5" y="166.0" width="1.7" height="1.7" rx="0.5" fill="#f5222a"/>
<rect x="422.8" y="202.7" width="1.7" height="1.7" rx="0.5" fill="#3fe01f"/>
<rect x="430.8" y="151.6" width="1.7" height="1.7" rx="0.5" fill="#3fe01f"/>
<rect x="414.7" y="193.7" width="1.7" height="1.7" rx="0.5" fill="#3fe01f"/>
<rect x="434.1" y="173.8" width="1.7" height="1.7" rx="0.5" fill="#f5222a"/>
<rect x="444.3" y="120.1" width="1.7" height="1.7" rx="0.5" fill="#3fe01f"/>
<rect x="425.7" y="179.9" width="1.7" height="1.7" rx="0.5" fill="#3fe01f"/>
<rect x="425.5" y="163.1" width="1.7" height="1.7" rx="0.5" fill="#f5222a"/>
<rect x="426.5" y="194.6" width="1.7" height="1.7" rx="0.5" fill="#3fe01f"/>
<rect x="418.7" y="186.6" width="1.7" height="1.7" rx="0.5" fill="#f5222a"/>
<rect x="444.1" y="109.3" width="1.7" height="1.7" rx="0.5" fill="#f5222a"/>
<rect x="427.8" y="170.7" width="1.7" height="1.7" rx="0.5" fill="#3fe01f"/>
<rect x="446.6" y="109.4" width="1.7" height="1.7" rx="0.5" fill="#f5222a"/>
<rect x="434.8" y="141.1" width="1.7" height="1.7" rx="0.5" fill="#3fe01f"/>
<rect x="414.8" y="165.6" width="1.7" height="1.7" rx="0.5" fill="#f5222a"/>
<rect x="422.9" y="167.6" width="1.7" height="1.7" rx="0.5" fill="#f5222a"/>
<rect x="421.7" y="201.8" width="1.7" height="1.7" rx="0.5" fill="#3fe01f"/>
<rect x="438.7" y="116.0" width="1.7" height="1.7" rx="0.5" fill="#f5222a"/>
<rect x="443.5" y="140.3" width="1.7" height="1.7" rx="0.5" fill="#3fe01f"/>
<rect x="444.0" y="125.4" width="1.7" height="1.7" rx="0.5" fill="#3fe01f"/>
<rect x="433.5" y="210.6" width="1.7" height="1.7" rx="0.5" fill="#3fe01f"/>
<rect x="422.3" y="142.4" width="1.7" height="1.7" rx="0.5" fill="#f5222a"/>
<rect x="430.2" y="190.2" width="1.7" height="1.7" rx="0.5" fill="#3fe01f"/>
<rect x="421.7" y="201.1" width="1.7" height="1.7" rx="0.5" fill="#3fe01f"/>
<rect x="427.1" y="182.1" width="1.7" height="1.7" rx="0.5" fill="#3fe01f"/>
<rect x="437.1" y="148.0" width="1.7" height="1.7" rx="0.5" fill="#f5222a"/>
<rect x="422.5" y="147.9" width="1.7" height="1.7" rx="0.5" fill="#f5222a"/>
<rect x="415.0" y="179.8" width="1.7" height="1.7" rx="0.5" fill="#f5222a"/>
<rect x="421.6" y="291.7" width="1.7" height="1.7" rx="0.5" fill="#f5222a"/>
<rect x="435.9" y="251.9" width="1.7" height="1.7" rx="0.5" fill="#f5222a"/>
<rect x="426.9" y="259.8" width="1.7" height="1.7" rx="0.5" fill="#f5222a"/>
<rect x="436.6" y="254.0" width="1.7" height="1.7" rx="0.5" fill="#f5222a"/>
<rect x="432.0" y="252.6" width="1.7" height="1.7" rx="0.5" fill="#f5222a"/>
<rect x="415.3" y="335.9" width="1.7" height="1.7" rx="0.5" fill="#3fe01f"/>
<rect x="438.4" y="245.9" width="1.7" height="1.7" rx="0.5" fill="#f5222a"/>
<rect x="424.7" y="264.6" width="1.7" height="1.7" rx="0.5" fill="#f5222a"/>
<rect x="440.5" y="252.3" width="1.7" height="1.7" rx="0.5" fill="#f5222a"/>
<rect x="429.7" y="310.1" width="1.7" height="1.7" rx="0.5" fill="#3fe01f"/>
<rect x="436.7" y="249.1" width="1.7" height="1.7" rx="0.5" fill="#3fe01f"/>
<rect x="431.5" y="347.6" width="1.7" height="1.7" rx="0.5" fill="#f5222a"/>
<rect x="427.1" y="307.2" width="1.7" height="1.7" rx="0.5" fill="#f5222a"/>
<rect x="422.3" y="324.3" width="1.7" height="1.7" rx="0.5" fill="#3fe01f"/>
<rect x="436.7" y="290.5" width="1.7" height="1.7" rx="0.5" fill="#f5222a"/>
<rect x="424.5" y="326.8" width="1.7" height="1.7" rx="0.5" fill="#3fe01f"/>
<rect x="429.9" y="252.7" width="1.7" height="1.7" rx="0.5" fill="#f5222a"/>
<rect x="425.1" y="324.9" width="1.7" height="1.7" rx="0.5" fill="#3fe01f"/>
<rect x="421.2" y="320.4" width="1.7" height="1.7" rx="0.5" fill="#3fe01f"/>
<rect x="428.2" y="261.3" width="1.7" height="1.7" rx="0.5" fill="#f5222a"/>
<rect x="426.5" y="306.7" width="1.7" height="1.7" rx="0.5" fill="#f5222a"/>
<rect x="419.2" y="344.3" width="1.7" height="1.7" rx="0.5" fill="#f5222a"/>
<rect x="436.2" y="252.5" width="1.7" height="1.7" rx="0.5" fill="#f5222a"/>
<rect x="430.5" y="323.2" width="1.7" height="1.7" rx="0.5" fill="#3fe01f"/>
<rect x="420.3" y="335.3" width="1.7" height="1.7" rx="0.5" fill="#f5222a"/>
<rect x="429.3" y="309.1" width="1.7" height="1.7" rx="0.5" fill="#f5222a"/>
<rect x="429.9" y="283.9" width="1.7" height="1.7" rx="0.5" fill="#f5222a"/>
<rect x="435.8" y="341.6" width="1.7" height="1.7" rx="0.5" fill="#f5222a"/>
<rect x="427.6" y="338.3" width="1.7" height="1.7" rx="0.5" fill="#f5222a"/>
<rect x="419.4" y="319.1" width="1.7" height="1.7" rx="0.5" fill="#3fe01f"/>
<rect x="434.8" y="249.0" width="1.7" height="1.7" rx="0.5" fill="#f5222a"/>
<rect x="427.4" y="329.3" width="1.7" height="1.7" rx="0.5" fill="#f5222a"/>
<rect x="431.9" y="305.7" width="1.7" height="1.7" rx="0.5" fill="#f5222a"/>
<rect x="429.0" y="263.2" width="1.7" height="1.7" rx="0.5" fill="#f5222a"/>
<rect x="432.0" y="299.3" width="1.7" height="1.7" rx="0.5" fill="#f5222a"/>
<rect x="435.7" y="343.0" width="1.7" height="1.7" rx="0.5" fill="#3fe01f"/>
<rect x="430.7" y="254.5" width="1.7" height="1.7" rx="0.5" fill="#f5222a"/>
<rect x="425.4" y="266.5" width="1.7" height="1.7" rx="0.5" fill="#3fe01f"/>
<rect x="430.5" y="268.1" width="1.7" height="1.7" rx="0.5" fill="#f5222a"/>
<rect x="436.8" y="245.7" width="1.7" height="1.7" rx="0.5" fill="#f5222a"/>
<rect x="427.1" y="306.6" width="1.7" height="1.7" rx="0.5" fill="#f5222a"/>
<rect x="424.2" y="344.4" width="1.7" height="1.7" rx="0.5" fill="#f5222a"/>
<rect x="426.5" y="285.1" width="1.7" height="1.7" rx="0.5" fill="#f5222a"/>
<rect x="423.4" y="302.7" width="1.7" height="1.7" rx="0.5" fill="#f5222a"/>
<rect x="427.3" y="261.2" width="1.7" height="1.7" rx="0.5" fill="#f5222a"/>
<rect x="430.7" y="257.8" width="1.7" height="1.7" rx="0.5" fill="#f5222a"/>
<rect x="426.2" y="320.0" width="1.7" height="1.7" rx="0.5" fill="#3fe01f"/>
<rect x="430.0" y="297.1" width="1.7" height="1.7" rx="0.5" fill="#f5222a"/>
<rect x="433.1" y="247.8" width="1.7" height="1.7" rx="0.5" fill="#3fe01f"/>
<rect x="434.9" y="311.2" width="1.7" height="1.7" rx="0.5" fill="#f5222a"/>
<rect x="426.0" y="315.4" width="1.7" height="1.7" rx="0.5" fill="#f5222a"/>
<rect x="430.2" y="303.0" width="1.7" height="1.7" rx="0.5" fill="#f5222a"/>
<rect x="419.0" y="322.2" width="1.7" height="1.7" rx="0.5" fill="#3fe01f"/>
<rect x="432.2" y="267.6" width="1.7" height="1.7" rx="0.5" fill="#f5222a"/>
<rect x="418.7" y="340.3" width="1.7" height="1.7" rx="0.5" fill="#3fe01f"/>
<rect x="430.9" y="253.5" width="1.7" height="1.7" rx="0.5" fill="#f5222a"/>
<rect x="432.5" y="266.0" width="1.7" height="1.7" rx="0.5" fill="#f5222a"/>
<rect x="419.0" y="318.1" width="1.7" height="1.7" rx="0.5" fill="#3fe01f"/>
<rect x="434.8" y="344.0" width="1.7" height="1.7" rx="0.5" fill="#f5222a"/>
<rect x="436.1" y="262.9" width="1.7" height="1.7" rx="0.5" fill="#f5222a"/>
<rect x="417.8" y="345.1" width="1.7" height="1.7" rx="0.5" fill="#f5222a"/>
<rect x="429.2" y="264.3" width="1.7" height="1.7" rx="0.5" fill="#f5222a"/>
<rect x="432.3" y="247.8" width="1.7" height="1.7" rx="0.5" fill="#f5222a"/>
<rect x="429.5" y="313.0" width="1.7" height="1.7" rx="0.5" fill="#3fe01f"/>
<rect x="422.5" y="339.7" width="1.7" height="1.7" rx="0.5" fill="#3fe01f"/>
<rect x="427.0" y="273.2" width="1.7" height="1.7" rx="0.5" fill="#f5222a"/>
<rect x="434.8" y="253.3" width="1.7" height="1.7" rx="0.5" fill="#f5222a"/>
<rect x="429.4" y="279.6" width="1.7" height="1.7" rx="0.5" fill="#f5222a"/>
<rect x="415.0" y="332.3" width="1.7" height="1.7" rx="0.5" fill="#f5222a"/>
<rect x="427.3" y="275.8" width="1.7" height="1.7" rx="0.5" fill="#f5222a"/>
<rect x="428.6" y="301.1" width="1.7" height="1.7" rx="0.5" fill="#f5222a"/>
<rect x="422.0" y="331.1" width="1.7" height="1.7" rx="0.5" fill="#3fe01f"/>
<rect x="438.2" y="251.3" width="1.7" height="1.7" rx="0.5" fill="#f5222a"/>
<rect x="434.4" y="303.2" width="1.7" height="1.7" rx="0.5" fill="#f5222a"/>
<rect x="424.9" y="337.0" width="1.7" height="1.7" rx="0.5" fill="#f5222a"/>
<rect x="426.0" y="345.1" width="1.7" height="1.7" rx="0.5" fill="#f5222a"/>
<rect x="432.8" y="321.4" width="1.7" height="1.7" rx="0.5" fill="#3fe01f"/>
<rect x="429.7" y="266.7" width="1.7" height="1.7" rx="0.5" fill="#f5222a"/>
<rect x="429.0" y="342.9" width="1.7" height="1.7" rx="0.5" fill="#3fe01f"/>
<rect x="428.1" y="287.6" width="1.7" height="1.7" rx="0.5" fill="#f5222a"/>
<rect x="426.8" y="345.7" width="1.7" height="1.7" rx="0.5" fill="#f5222a"/>
<rect x="430.6" y="303.7" width="1.7" height="1.7" rx="0.5" fill="#f5222a"/>
<rect x="434.2" y="344.6" width="1.7" height="1.7" rx="0.5" fill="#3fe01f"/>
<rect x="434.8" y="258.5" width="1.7" height="1.7" rx="0.5" fill="#f5222a"/>
<rect x="431.7" y="310.7" width="1.7" height="1.7" rx="0.5" fill="#f5222a"/>
<rect x="428.8" y="305.0" width="1.7" height="1.7" rx="0.5" fill="#f5222a"/>
<rect x="426.1" y="319.0" width="1.7" height="1.7" rx="0.5" fill="#3fe01f"/>
<rect x="434.7" y="259.1" width="1.7" height="1.7" rx="0.5" fill="#f5222a"/>
<rect x="425.2" y="303.7" width="1.7" height="1.7" rx="0.5" fill="#f5222a"/>
<rect x="426.4" y="344.1" width="1.7" height="1.7" rx="0.5" fill="#3fe01f"/>
<rect x="428.2" y="296.7" width="1.7" height="1.7" rx="0.5" fill="#f5222a"/>
<rect x="434.3" y="324.1" width="1.7" height="1.7" rx="0.5" fill="#f5222a"/>
<rect x="432.0" y="270.1" width="1.7" height="1.7" rx="0.5" fill="#f5222a"/>
<rect x="434.3" y="286.5" width="1.7" height="1.7" rx="0.5" fill="#f5222a"/>
<rect x="435.0" y="265.3" width="1.7" height="1.7" rx="0.5" fill="#f5222a"/>
<rect x="429.1" y="273.4" width="1.7" height="1.7" rx="0.5" fill="#f5222a"/>
<rect x="429.9" y="252.5" width="1.7" height="1.7" rx="0.5" fill="#f5222a"/>
<rect x="427.1" y="269.6" width="1.7" height="1.7" rx="0.5" fill="#3fe01f"/>
<rect x="426.6" y="321.1" width="1.7" height="1.7" rx="0.5" fill="#3fe01f"/>
<rect x="433.1" y="271.5" width="1.7" height="1.7" rx="0.5" fill="#f5222a"/>
<rect x="431.3" y="262.6" width="1.7" height="1.7" rx="0.5" fill="#f5222a"/>
<rect x="425.9" y="327.8" width="1.7" height="1.7" rx="0.5" fill="#f5222a"/>
<rect x="433.4" y="252.2" width="1.7" height="1.7" rx="0.5" fill="#f5222a"/>
<rect x="435.2" y="266.4" width="1.7" height="1.7" rx="0.5" fill="#f5222a"/>
<rect x="427.2" y="270.2" width="1.7" height="1.7" rx="0.5" fill="#f5222a"/>
<rect x="431.0" y="260.2" width="1.7" height="1.7" rx="0.5" fill="#f5222a"/>
<rect x="420.6" y="314.5" width="1.7" height="1.7" rx="0.5" fill="#f5222a"/>
<rect x="428.3" y="318.0" width="1.7" height="1.7" rx="0.5" fill="#3fe01f"/>
<rect x="426.6" y="272.8" width="1.7" height="1.7" rx="0.5" fill="#f5222a"/>
<rect x="433.2" y="311.0" width="1.7" height="1.7" rx="0.5" fill="#3fe01f"/>
<rect x="425.6" y="341.9" width="1.7" height="1.7" rx="0.5" fill="#f5222a"/>
<rect x="434.6" y="252.0" width="1.7" height="1.7" rx="0.5" fill="#f5222a"/>
<rect x="430.0" y="317.8" width="1.7" height="1.7" rx="0.5" fill="#3fe01f"/>
<rect x="435.8" y="300.2" width="1.7" height="1.7" rx="0.5" fill="#f5222a"/>
<rect x="428.8" y="253.2" width="1.7" height="1.7" rx="0.5" fill="#f5222a"/>
<rect x="426.4" y="303.2" width="1.7" height="1.7" rx="0.5" fill="#f5222a"/>
<rect x="427.7" y="271.3" width="1.7" height="1.7" rx="0.5" fill="#f5222a"/>
<rect x="433.3" y="323.3" width="1.7" height="1.7" rx="0.5" fill="#f5222a"/>
<rect x="430.0" y="261.9" width="1.7" height="1.7" rx="0.5" fill="#f5222a"/>
<rect x="431.1" y="251.0" width="1.7" height="1.7" rx="0.5" fill="#f5222a"/>
<rect x="432.2" y="299.0" width="1.7" height="1.7" rx="0.5" fill="#f5222a"/>
<rect x="429.4" y="263.9" width="1.7" height="1.7" rx="0.5" fill="#f5222a"/>
<rect x="427.2" y="290.2" width="1.7" height="1.7" rx="0.5" fill="#f5222a"/>
<rect x="423.8" y="308.4" width="1.7" height="1.7" rx="0.5" fill="#f5222a"/>
<rect x="428.7" y="270.3" width="1.7" height="1.7" rx="0.5" fill="#f5222a"/>
<rect x="429.3" y="344.5" width="1.7" height="1.7" rx="0.5" fill="#f5222a"/>
<rect x="431.0" y="276.2" width="1.7" height="1.7" rx="0.5" fill="#f5222a"/>
<rect x="436.0" y="305.1" width="1.7" height="1.7" rx="0.5" fill="#f5222a"/>
<rect x="430.7" y="262.5" width="1.7" height="1.7" rx="0.5" fill="#f5222a"/>
<rect x="435.5" y="267.9" width="1.7" height="1.7" rx="0.5" fill="#f5222a"/>
<rect x="433.0" y="254.4" width="1.7" height="1.7" rx="0.5" fill="#f5222a"/>
<rect x="419.3" y="297.3" width="1.7" height="1.7" rx="0.5" fill="#f5222a"/>
<rect x="429.9" y="262.2" width="1.7" height="1.7" rx="0.5" fill="#f5222a"/>
<rect x="434.3" y="320.0" width="1.7" height="1.7" rx="0.5" fill="#f5222a"/>
<rect x="423.6" y="342.9" width="1.7" height="1.7" rx="0.5" fill="#f5222a"/>
<rect x="433.5" y="279.7" width="1.7" height="1.7" rx="0.5" fill="#f5222a"/>
<rect x="437.2" y="281.9" width="1.7" height="1.7" rx="0.5" fill="#f5222a"/>
<rect x="433.3" y="255.4" width="1.7" height="1.7" rx="0.5" fill="#f5222a"/>
<rect x="427.7" y="283.9" width="1.7" height="1.7" rx="0.5" fill="#f5222a"/>
<rect x="434.0" y="262.4" width="1.7" height="1.7" rx="0.5" fill="#f5222a"/>
<rect x="431.6" y="264.2" width="1.7" height="1.7" rx="0.5" fill="#f5222a"/>
<rect x="429.4" y="314.2" width="1.7" height="1.7" rx="0.5" fill="#3fe01f"/>
<rect x="427.3" y="260.9" width="1.7" height="1.7" rx="0.5" fill="#f5222a"/>
<rect x="426.6" y="312.5" width="1.7" height="1.7" rx="0.5" fill="#3fe01f"/>
<rect x="438.1" y="253.9" width="1.7" height="1.7" rx="0.5" fill="#f5222a"/>
<rect x="422.8" y="326.8" width="1.7" height="1.7" rx="0.5" fill="#f5222a"/>
<rect x="431.3" y="275.3" width="1.7" height="1.7" rx="0.5" fill="#f5222a"/>
<rect x="424.3" y="266.3" width="1.7" height="1.7" rx="0.5" fill="#f5222a"/>
<rect x="433.4" y="311.5" width="1.7" height="1.7" rx="0.5" fill="#f5222a"/>
<rect x="429.9" y="313.6" width="1.7" height="1.7" rx="0.5" fill="#f5222a"/>
<rect x="429.5" y="308.1" width="1.7" height="1.7" rx="0.5" fill="#f5222a"/>
<rect x="429.0" y="345.6" width="1.7" height="1.7" rx="0.5" fill="#f5222a"/>
<rect x="428.1" y="314.0" width="1.7" height="1.7" rx="0.5" fill="#3fe01f"/>
<rect x="436.1" y="246.2" width="1.7" height="1.7" rx="0.5" fill="#f5222a"/>
<rect x="438.5" y="246.1" width="1.7" height="1.7" rx="0.5" fill="#f5222a"/>
<rect x="439.6" y="245.3" width="1.7" height="1.7" rx="0.5" fill="#f5222a"/>
<rect x="420.2" y="319.6" width="1.7" height="1.7" rx="0.5" fill="#3fe01f"/>
<rect x="432.2" y="264.2" width="1.7" height="1.7" rx="0.5" fill="#f5222a"/>
<rect x="437.6" y="244.3" width="1.7" height="1.7" rx="0.5" fill="#f5222a"/>
<rect x="432.7" y="252.9" width="1.7" height="1.7" rx="0.5" fill="#f5222a"/>
<rect x="424.2" y="327.6" width="1.7" height="1.7" rx="0.5" fill="#3fe01f"/>
<rect x="428.9" y="304.2" width="1.7" height="1.7" rx="0.5" fill="#f5222a"/>
<rect x="437.9" y="253.7" width="1.7" height="1.7" rx="0.5" fill="#f5222a"/>
<rect x="435.2" y="268.6" width="1.7" height="1.7" rx="0.5" fill="#f5222a"/>
<rect x="433.0" y="291.2" width="1.7" height="1.7" rx="0.5" fill="#f5222a"/>
<rect x="436.5" y="308.7" width="1.7" height="1.7" rx="0.5" fill="#f5222a"/>
<rect x="426.1" y="316.5" width="1.7" height="1.7" rx="0.5" fill="#3fe01f"/>
<rect x="435.5" y="314.6" width="1.7" height="1.7" rx="0.5" fill="#3fe01f"/>
<rect x="424.8" y="324.2" width="1.7" height="1.7" rx="0.5" fill="#3fe01f"/>
<rect x="432.6" y="286.3" width="1.7" height="1.7" rx="0.5" fill="#f5222a"/>
<rect x="435.0" y="259.3" width="1.7" height="1.7" rx="0.5" fill="#f5222a"/>
<rect x="424.7" y="271.7" width="1.7" height="1.7" rx="0.5" fill="#f5222a"/>
<rect x="428.8" y="259.2" width="1.7" height="1.7" rx="0.5" fill="#f5222a"/>
<rect x="432.6" y="264.6" width="1.7" height="1.7" rx="0.5" fill="#f5222a"/>
<rect x="433.7" y="254.2" width="1.7" height="1.7" rx="0.5" fill="#f5222a"/>
<rect x="427.9" y="330.8" width="1.7" height="1.7" rx="0.5" fill="#f5222a"/>
<rect x="430.4" y="251.1" width="1.7" height="1.7" rx="0.5" fill="#f5222a"/>
<rect x="435.3" y="268.9" width="1.7" height="1.7" rx="0.5" fill="#f5222a"/>
<rect x="431.4" y="329.1" width="1.7" height="1.7" rx="0.5" fill="#3fe01f"/>
<rect x="436.8" y="300.7" width="1.7" height="1.7" rx="0.5" fill="#f5222a"/>
<rect x="435.0" y="313.9" width="1.7" height="1.7" rx="0.5" fill="#3fe01f"/>
<rect x="415.2" y="339.6" width="1.7" height="1.7" rx="0.5" fill="#3fe01f"/>
<rect x="430.2" y="278.6" width="1.7" height="1.7" rx="0.5" fill="#f5222a"/>
<rect x="425.2" y="322.2" width="1.7" height="1.7" rx="0.5" fill="#3fe01f"/>
<rect x="425.5" y="344.5" width="1.7" height="1.7" rx="0.5" fill="#3fe01f"/>
<rect x="436.9" y="250.8" width="1.7" height="1.7" rx="0.5" fill="#f5222a"/>
<rect x="431.0" y="309.4" width="1.7" height="1.7" rx="0.5" fill="#f5222a"/>
<rect x="437.4" y="252.7" width="1.7" height="1.7" rx="0.5" fill="#f5222a"/>
<rect x="422.0" y="295.0" width="1.7" height="1.7" rx="0.5" fill="#f5222a"/>
<rect x="430.9" y="340.7" width="1.7" height="1.7" rx="0.5" fill="#f5222a"/>
<rect x="432.1" y="277.8" width="1.7" height="1.7" rx="0.5" fill="#f5222a"/>
<rect x="441.3" y="248.1" width="1.7" height="1.7" rx="0.5" fill="#f5222a"/>
<rect x="431.4" y="299.8" width="1.7" height="1.7" rx="0.5" fill="#f5222a"/>
<rect x="422.9" y="325.7" width="1.7" height="1.7" rx="0.5" fill="#f5222a"/>
<rect x="430.1" y="271.4" width="1.7" height="1.7" rx="0.5" fill="#f5222a"/>
<rect x="432.3" y="342.7" width="1.7" height="1.7" rx="0.5" fill="#3fe01f"/>
<rect x="429.5" y="300.8" width="1.7" height="1.7" rx="0.5" fill="#f5222a"/>
<rect x="429.9" y="258.6" width="1.7" height="1.7" rx="0.5" fill="#f5222a"/>
<rect x="428.9" y="276.9" width="1.7" height="1.7" rx="0.5" fill="#f5222a"/>
<rect x="433.7" y="296.5" width="1.7" height="1.7" rx="0.5" fill="#f5222a"/>
<rect x="426.4" y="313.1" width="1.7" height="1.7" rx="0.5" fill="#3fe01f"/>
<rect x="432.6" y="254.0" width="1.7" height="1.7" rx="0.5" fill="#f5222a"/>
<rect x="426.9" y="337.9" width="1.7" height="1.7" rx="0.5" fill="#f5222a"/>
<rect x="434.9" y="246.8" width="1.7" height="1.7" rx="0.5" fill="#f5222a"/>
<rect x="418.0" y="319.5" width="1.7" height="1.7" rx="0.5" fill="#3fe01f"/>
<rect x="427.0" y="343.8" width="1.7" height="1.7" rx="0.5" fill="#3fe01f"/>
<rect x="436.0" y="282.6" width="1.7" height="1.7" rx="0.5" fill="#f5222a"/>
<rect x="441.3" y="249.6" width="1.7" height="1.7" rx="0.5" fill="#f5222a"/>
<rect x="428.8" y="301.0" width="1.7" height="1.7" rx="0.5" fill="#f5222a"/>
<rect x="428.9" y="268.2" width="1.7" height="1.7" rx="0.5" fill="#f5222a"/>
<rect x="438.0" y="257.1" width="1.7" height="1.7" rx="0.5" fill="#f5222a"/>
<rect x="433.2" y="252.6" width="1.7" height="1.7" rx="0.5" fill="#f5222a"/>
<rect x="438.2" y="253.7" width="1.7" height="1.7" rx="0.5" fill="#f5222a"/>
<rect x="430.5" y="270.1" width="1.7" height="1.7" rx="0.5" fill="#f5222a"/>
<rect x="440.8" y="252.6" width="1.7" height="1.7" rx="0.5" fill="#f5222a"/>
<rect x="428.1" y="290.0" width="1.7" height="1.7" rx="0.5" fill="#f5222a"/>
<rect x="421.7" y="343.7" width="1.7" height="1.7" rx="0.5" fill="#3fe01f"/>
<rect x="434.0" y="268.0" width="1.7" height="1.7" rx="0.5" fill="#f5222a"/>
<rect x="434.6" y="294.2" width="1.7" height="1.7" rx="0.5" fill="#f5222a"/>
<rect x="431.4" y="279.0" width="1.7" height="1.7" rx="0.5" fill="#f5222a"/>
<rect x="424.6" y="322.2" width="1.7" height="1.7" rx="0.5" fill="#3fe01f"/>
<rect x="417.2" y="322.8" width="1.7" height="1.7" rx="0.5" fill="#3fe01f"/>
<rect x="420.3" y="315.9" width="1.7" height="1.7" rx="0.5" fill="#3fe01f"/>
<rect x="431.2" y="261.2" width="1.7" height="1.7" rx="0.5" fill="#f5222a"/>
<rect x="428.4" y="269.3" width="1.7" height="1.7" rx="0.5" fill="#f5222a"/>
<rect x="430.6" y="314.1" width="1.7" height="1.7" rx="0.5" fill="#f5222a"/>
<rect x="433.9" y="268.1" width="1.7" height="1.7" rx="0.5" fill="#f5222a"/>
<rect x="437.1" y="249.0" width="1.7" height="1.7" rx="0.5" fill="#f5222a"/>
<rect x="420.4" y="312.6" width="1.7" height="1.7" rx="0.5" fill="#3fe01f"/>
<rect x="432.6" y="300.0" width="1.7" height="1.7" rx="0.5" fill="#f5222a"/>
<rect x="436.7" y="247.1" width="1.7" height="1.7" rx="0.5" fill="#f5222a"/>
<rect x="424.0" y="301.4" width="1.7" height="1.7" rx="0.5" fill="#f5222a"/>
<rect x="425.4" y="267.3" width="1.7" height="1.7" rx="0.5" fill="#f5222a"/>
<rect x="425.8" y="281.3" width="1.7" height="1.7" rx="0.5" fill="#f5222a"/>
<rect x="420.9" y="333.6" width="1.7" height="1.7" rx="0.5" fill="#3fe01f"/>
<circle cx="555.8" cy="163.3" r="39.3" fill="none" stroke="#f5b133" stroke-width="2" stroke-dasharray="9.2 4.6"/>
<circle cx="558.4" cy="113.3" r="4.1" fill="#f5a3c7" stroke="#1b2f7c" stroke-width="1.15"/>
<circle cx="582.4" cy="114.6" r="4.1" fill="#dff3cf" stroke="#1b2f7c" stroke-width="1.15"/>
<circle cx="595.4" cy="133.6" r="4.1" fill="#f5a3c7" stroke="#1b2f7c" stroke-width="1.15"/>
<circle cx="513.8" cy="138.3" r="4.1" fill="#dff3cf" stroke="#1b2f7c" stroke-width="1.15"/>
<circle cx="552.1" cy="133.3" r="4.1" fill="#ee1c1c" stroke="#1b2f7c" stroke-width="1.15"/>
<circle cx="578.7" cy="143.2" r="4.1" fill="#ee1c1c" stroke="#1b2f7c" stroke-width="1.15"/>
<circle cx="557.8" cy="147.6" r="4.1" fill="#4fdd28" stroke="#1b2f7c" stroke-width="1.15"/>
<circle cx="572.4" cy="155.9" r="4.1" fill="#4fdd28" stroke="#1b2f7c" stroke-width="1.15"/>
<circle cx="505.2" cy="154.9" r="4.1" fill="#f5a3c7" stroke="#1b2f7c" stroke-width="1.15"/>
<circle cx="531.1" cy="161.2" r="4.1" fill="#4fdd28" stroke="#1b2f7c" stroke-width="1.15"/>
<circle cx="542.1" cy="165.6" r="4.1" fill="#4fdd28" stroke="#1b2f7c" stroke-width="1.15"/>
<circle cx="576.7" cy="169.2" r="4.1" fill="#ee1c1c" stroke="#1b2f7c" stroke-width="1.15"/>
<circle cx="604.7" cy="163.2" r="4.1" fill="#dff3cf" stroke="#1b2f7c" stroke-width="1.15"/>
<circle cx="542.8" cy="181.2" r="4.1" fill="#ee1c1c" stroke="#1b2f7c" stroke-width="1.15"/>
<circle cx="568.1" cy="189.9" r="4.1" fill="#4fdd28" stroke="#1b2f7c" stroke-width="1.15"/>
<circle cx="509.8" cy="189.9" r="4.1" fill="#dff3cf" stroke="#1b2f7c" stroke-width="1.15"/>
<circle cx="586.1" cy="200.8" r="4.1" fill="#f5a3c7" stroke="#1b2f7c" stroke-width="1.15"/>
<circle cx="522.8" cy="206.2" r="4.1" fill="#f5a3c7" stroke="#1b2f7c" stroke-width="1.15"/>
<circle cx="548.1" cy="210.8" r="4.1" fill="#dff3cf" stroke="#1b2f7c" stroke-width="1.15"/>
<circle cx="556.4" cy="163.6" r="4.1" fill="#ee1c1c" stroke="#1b2f7c" stroke-width="1.15"/>
<path d="M553.4 163.6H559.4M556.4 160.6V166.6" stroke="#ffe93a" stroke-width="1.5" fill="none"/>
<text x="502.3" y="122.8" font-size="15" fill="#000" text-anchor="start" >(10/20)</text>
<text x="549.3" y="185.6" font-size="15" fill="#000" text-anchor="start" >0.5</text>
<circle cx="555.8" cy="295.8" r="39.3" fill="none" stroke="#f5b133" stroke-width="2" stroke-dasharray="9.2 4.6"/>
<circle cx="558.4" cy="245.8" r="4.1" fill="#dff3cf" stroke="#1b2f7c" stroke-width="1.15"/>
<circle cx="582.4" cy="247.1" r="4.1" fill="#dff3cf" stroke="#1b2f7c" stroke-width="1.15"/>
<circle cx="595.4" cy="266.1" r="4.1" fill="#f5a3c7" stroke="#1b2f7c" stroke-width="1.15"/>
<circle cx="513.8" cy="270.8" r="4.1" fill="#dff3cf" stroke="#1b2f7c" stroke-width="1.15"/>
<circle cx="552.1" cy="265.8" r="4.1" fill="#ee1c1c" stroke="#1b2f7c" stroke-width="1.15"/>
<circle cx="578.7" cy="275.7" r="4.1" fill="#ee1c1c" stroke="#1b2f7c" stroke-width="1.15"/>
<circle cx="557.8" cy="280.1" r="4.1" fill="#ee1c1c" stroke="#1b2f7c" stroke-width="1.15"/>
<circle cx="572.4" cy="288.4" r="4.1" fill="#ee1c1c" stroke="#1b2f7c" stroke-width="1.15"/>
<circle cx="505.2" cy="287.4" r="4.1" fill="#dff3cf" stroke="#1b2f7c" stroke-width="1.15"/>
<circle cx="531.1" cy="293.7" r="4.1" fill="#4fdd28" stroke="#1b2f7c" stroke-width="1.15"/>
<circle cx="542.1" cy="298.1" r="4.1" fill="#ee1c1c" stroke="#1b2f7c" stroke-width="1.15"/>
<circle cx="576.7" cy="301.7" r="4.1" fill="#ee1c1c" stroke="#1b2f7c" stroke-width="1.15"/>
<circle cx="604.7" cy="295.7" r="4.1" fill="#dff3cf" stroke="#1b2f7c" stroke-width="1.15"/>
<circle cx="542.8" cy="313.7" r="4.1" fill="#ee1c1c" stroke="#1b2f7c" stroke-width="1.15"/>
<circle cx="568.1" cy="322.4" r="4.1" fill="#ee1c1c" stroke="#1b2f7c" stroke-width="1.15"/>
<circle cx="509.8" cy="322.4" r="4.1" fill="#dff3cf" stroke="#1b2f7c" stroke-width="1.15"/>
<circle cx="586.1" cy="333.3" r="4.1" fill="#dff3cf" stroke="#1b2f7c" stroke-width="1.15"/>
<circle cx="522.8" cy="338.7" r="4.1" fill="#dff3cf" stroke="#1b2f7c" stroke-width="1.15"/>
<circle cx="548.1" cy="343.3" r="4.1" fill="#dff3cf" stroke="#1b2f7c" stroke-width="1.15"/>
<circle cx="556.4" cy="296.1" r="4.1" fill="#ee1c1c" stroke="#1b2f7c" stroke-width="1.15"/>
<path d="M553.4 296.1H559.4M556.4 293.1V299.1" stroke="#ffe93a" stroke-width="1.5" fill="none"/>
<text x="502.3" y="255.3" font-size="15" fill="#000" text-anchor="start" >(10/20)</text>
<text x="549.3" y="318.1" font-size="15" fill="#000" text-anchor="start" >0.1</text>
<rect x="682" y="90.2" width="67.2" height="128.3" fill="#fff" stroke="#0c0c0c" stroke-width="2.6"/>
<path d="M677.5 94H681" stroke="#333" stroke-width="1"/>
<text x="676" y="99" font-size="14" fill="#7d8a8b" text-anchor="end" textLength="16.799999999999997" lengthAdjust="spacingAndGlyphs">150</text>
<path d="M677.5 134.2H681" stroke="#333" stroke-width="1"/>
<text x="676" y="139.2" font-size="14" fill="#7d8a8b" text-anchor="end" textLength="16.799999999999997" lengthAdjust="spacingAndGlyphs">100</text>
<path d="M677.5 174H681" stroke="#333" stroke-width="1"/>
<text x="676" y="179" font-size="14" fill="#7d8a8b" text-anchor="end" textLength="11.2" lengthAdjust="spacingAndGlyphs">50</text>
<path d="M677.5 214H681" stroke="#333" stroke-width="1"/>
<text x="676" y="219" font-size="14" fill="#7d8a8b" text-anchor="end" textLength="5.6" lengthAdjust="spacingAndGlyphs">0</text>
<rect x="690.1" y="204.3" width="7.8" height="9.5" fill="#cfd3d2"/>
<rect x="697.3" y="178" width="6.6" height="35.8" fill="#cfd3d2"/>
<rect x="703.3" y="179.5" width="6.6" height="34.3" fill="#cfd3d2"/>
<rect x="709.3" y="136.9" width="6.5" height="76.9" fill="#cfd3d2"/>
<rect x="715.2" y="183" width="7.4" height="30.8" fill="#cfd3d2"/>
<rect x="722" y="196" width="12.6" height="17.8" fill="#cfd3d2"/>
<path d="M684 213.6H748" stroke="#cfd3d2" stroke-width="0.8"/>
<path d="M709.8 99.2H713.8V114.6H717.8L711.8 125.6L705.8 114.6H709.8Z" fill="#f5141b"/>
<rect x="682" y="230.1" width="67.4" height="128.3" fill="#fff" stroke="#0c0c0c" stroke-width="2.6"/>
<path d="M677.5 235.5H681" stroke="#333" stroke-width="1"/>
<text x="676" y="240.5" font-size="14" fill="#7d8a8b" text-anchor="end" textLength="16.799999999999997" lengthAdjust="spacingAndGlyphs">150</text>
<path d="M677.5 274.6H681" stroke="#333" stroke-width="1"/>
<text x="676" y="279.6" font-size="14" fill="#7d8a8b" text-anchor="end" textLength="16.799999999999997" lengthAdjust="spacingAndGlyphs">100</text>
<path d="M677.5 314.6H681" stroke="#333" stroke-width="1"/>
<text x="676" y="319.6" font-size="14" fill="#7d8a8b" text-anchor="end" textLength="11.2" lengthAdjust="spacingAndGlyphs">50</text>
<path d="M677.5 354.7H681" stroke="#333" stroke-width="1"/>
<text x="676" y="359.7" font-size="14" fill="#7d8a8b" text-anchor="end" textLength="5.6" lengthAdjust="spacingAndGlyphs">0</text>
<rect x="683.90" y="337.7" width="7.02" height="17.2" fill="#393c3e"/>
<rect x="690.32" y="330.2" width="7.02" height="24.7" fill="#393c3e"/>
<rect x="696.74" y="333.9" width="7.02" height="21.0" fill="#393c3e"/>
<rect x="703.16" y="330.2" width="7.02" height="24.7" fill="#393c3e"/>
<rect x="709.58" y="347.2" width="7.02" height="7.7" fill="#393c3e"/>
<rect x="716.00" y="350.7" width="7.02" height="4.2" fill="#393c3e"/>
<rect x="722.42" y="343.4" width="7.02" height="11.5" fill="#393c3e"/>
<rect x="728.84" y="313.9" width="7.02" height="41.0" fill="#393c3e"/>
<rect x="735.26" y="295.9" width="7.02" height="59.0" fill="#393c3e"/>
<rect x="741.68" y="328.2" width="7.02" height="26.7" fill="#393c3e"/>
<path d="M687.1 359.5V364.2" stroke="#333" stroke-width="1"/>
<path d="M701.4 359.5V364.2" stroke="#333" stroke-width="1"/>
<path d="M715.6 359.5V364.2" stroke="#333" stroke-width="1"/>
<path d="M729.7 359.5V364.2" stroke="#333" stroke-width="1"/>
<path d="M743.9 359.5V364.2" stroke="#333" stroke-width="1"/>
<path d="M694.6 290.9H698.6V305.1H702.6L696.6 317.6L690.6 305.1H694.6Z" fill="#f5141b"/>
<path d="M733.6 251.3H737.6V266.3H741.6L735.6 278.1L729.6 266.3H733.6Z" fill="#f5141b"/>
<text x="670" y="384" font-size="18" fill="#000" text-anchor="start" >0 (all</text>
<text x="726.4" y="384" font-size="18" fill="#000" text-anchor="start" >(all 1</text>
<text x="670.5" y="404" font-size="18" fill="#000" text-anchor="start" ><tspan fill="#f21a1a">GFP</tspan><tspan fill="#f21a1a" dy="-6" font-size="12">-</tspan><tspan dy="6">)</tspan></text>
<text x="726.4" y="404" font-size="18" fill="#000" text-anchor="start" ><tspan fill="#35dc1e">GFP</tspan><tspan fill="#35dc1e" dy="-6" font-size="12">+</tspan><tspan dy="6">)</tspan></text>
</g>
<g id="panelC">
<text x="64" y="527.6" font-size="18" fill="#000" text-anchor="middle" >%GFP<tspan dy="-6" font-size="12">+</tspan></text>
<text x="63.5" y="547.2" font-size="18" fill="#000" text-anchor="middle" >cells</text>
<rect x="30" y="560" width="83.3" height="188.2" fill="#fff" stroke="#3a3a3a" stroke-width="1.3"/>
<path d="M26.5 565.2H29.5" stroke="#444" stroke-width="1"/>
<text x="26" y="571.5" font-size="18" fill="#6f7b7c" text-anchor="end" textLength="20.700000000000003" lengthAdjust="spacingAndGlyphs">100</text>
<path d="M26.5 615.4H29.5" stroke="#444" stroke-width="1"/>
<text x="26" y="621.7" font-size="18" fill="#6f7b7c" text-anchor="end" textLength="13.8" lengthAdjust="spacingAndGlyphs">80</text>
<path d="M26.5 665.6H29.5" stroke="#444" stroke-width="1"/>
<text x="26" y="671.9" font-size="18" fill="#6f7b7c" text-anchor="end" textLength="13.8" lengthAdjust="spacingAndGlyphs">60</text>
<path d="M26.5 715.8H29.5" stroke="#444" stroke-width="1"/>
<text x="26" y="722.1" font-size="18" fill="#6f7b7c" text-anchor="end" textLength="13.8" lengthAdjust="spacingAndGlyphs">40</text>
<path d="M40.8 748.5V752" stroke="#444" stroke-width="1"/>
<path d="M61.2 748.5V752" stroke="#444" stroke-width="1"/>
<path d="M81.6 748.5V752" stroke="#444" stroke-width="1"/>
<path d="M101.5 748.5V752" stroke="#444" stroke-width="1"/>
<path d="M41.7 566.5V572.0M41.7 588.0V597.8" stroke="#555" stroke-width="0.9" fill="none"/>
<rect x="33.8" y="572.0" width="15.8" height="16.0" fill="#e4e4e4" stroke="#555" stroke-width="0.9"/>
<path d="M33.8 580.5H49.6" stroke="#222" stroke-width="1.8"/>
<path d="M81.5 571.5V577.2M81.5 602.3V616.5" stroke="#555" stroke-width="0.9" fill="none"/>
<rect x="73.4" y="577.2" width="16.2" height="25.1" fill="#8fe25a" stroke="#555" stroke-width="0.9"/>
<path d="M73.4 585.2H89.6" stroke="#222" stroke-width="1.8"/>
<path d="M61.5 688.0V691.7M61.5 699.3V702.0" stroke="#555" stroke-width="0.9" fill="none"/>
<rect x="53.1" y="691.7" width="16.8" height="7.6" fill="#e4e4e4" stroke="#555" stroke-width="0.9"/>
<path d="M53.1 695.5H69.9" stroke="#222" stroke-width="1.8"/>
<path d="M101.4 673.2V689.3M101.4 701.2V705.0" stroke="#555" stroke-width="0.9" fill="none"/>
<rect x="93.1" y="689.3" width="16.6" height="11.9" fill="#8fe25a" stroke="#555" stroke-width="0.9"/>
<path d="M93.1 691.7H109.7" stroke="#222" stroke-width="1.8"/>
<circle cx="41.6" cy="566.5" r="2" fill="#c2c6c5"/>
<circle cx="41.8" cy="569" r="2" fill="#c2c6c5"/>
<circle cx="42.7" cy="572" r="2" fill="#c2c6c5"/>
<circle cx="41.6" cy="575" r="2" fill="#c2c6c5"/>
<circle cx="41.7" cy="578" r="2" fill="#c2c6c5"/>
<circle cx="41.9" cy="582" r="2" fill="#c2c6c5"/>
<circle cx="40.9" cy="586" r="2" fill="#c2c6c5"/>
<circle cx="41.7" cy="590" r="2" fill="#c2c6c5"/>
<circle cx="42.0" cy="594" r="2" fill="#c2c6c5"/>
<circle cx="42.4" cy="597.8" r="2" fill="#c2c6c5"/>
<circle cx="80.5" cy="571.5" r="2" fill="#c2c6c5"/>
<circle cx="81.0" cy="574" r="2" fill="#c2c6c5"/>
<circle cx="80.5" cy="577" r="2" fill="#c2c6c5"/>
<circle cx="82.2" cy="582" r="2" fill="#c2c6c5"/>
<circle cx="82.0" cy="588" r="2" fill="#c2c6c5"/>
<circle cx="80.4" cy="594" r="2" fill="#c2c6c5"/>
<circle cx="82.7" cy="600" r="2" fill="#c2c6c5"/>
<circle cx="82.6" cy="606" r="2" fill="#c2c6c5"/>
<circle cx="81.9" cy="613" r="2" fill="#c2c6c5"/>
<circle cx="81.8" cy="616.5" r="2" fill="#c2c6c5"/>
<circle cx="59.7" cy="684.9" r="1.7" fill="#111"/>
<circle cx="59.2" cy="688" r="1.7" fill="#111"/>
<circle cx="60.9" cy="690.5" r="1.7" fill="#111"/>
<circle cx="59.4" cy="692" r="1.7" fill="#111"/>
<circle cx="59.8" cy="693.5" r="1.7" fill="#111"/>
<circle cx="60.0" cy="695" r="1.7" fill="#111"/>
<circle cx="59.3" cy="696" r="1.7" fill="#111"/>
<circle cx="60.7" cy="697" r="1.7" fill="#111"/>
<circle cx="60.6" cy="698" r="1.7" fill="#111"/>
<circle cx="61.9" cy="699.5" r="1.7" fill="#111"/>
<circle cx="60.9" cy="721.6" r="1.7" fill="#111"/>
<circle cx="61.2" cy="726" r="1.7" fill="#111"/>
<circle cx="101.2" cy="673.2" r="1.7" fill="#111"/>
<circle cx="101.7" cy="686" r="1.7" fill="#111"/>
<circle cx="101.1" cy="688" r="1.7" fill="#111"/>
<circle cx="100.5" cy="689.5" r="1.7" fill="#111"/>
<circle cx="102.8" cy="691" r="1.7" fill="#111"/>
<circle cx="102.8" cy="692" r="1.7" fill="#111"/>
<circle cx="102.3" cy="693" r="1.7" fill="#111"/>
<circle cx="101.9" cy="694.5" r="1.7" fill="#111"/>
<circle cx="100.6" cy="696" r="1.7" fill="#111"/>
<circle cx="100.3" cy="698" r="1.7" fill="#111"/>
<circle cx="100.5" cy="701" r="1.7" fill="#111"/>
<circle cx="99.8" cy="704" r="1.7" fill="#111"/>
<circle cx="102.1" cy="707.5" r="1.7" fill="#111"/>
<circle cx="100.9" cy="740.7" r="1.7" fill="#111"/>
<text x="41.2" y="754.5" font-size="18" fill="#b7bbba" text-anchor="end" transform="rotate(-90 41.2 754.5)" >comp</text>
<text x="62.2" y="754.5" font-size="18" fill="#000" text-anchor="end" transform="rotate(-90 62.2 754.5)" >mosaic</text>
<text x="83.4" y="754.5" font-size="18" fill="#b7bbba" text-anchor="end" transform="rotate(-90 83.4 754.5)" >comp</text>
<text x="104.8" y="754.5" font-size="18" fill="#000" text-anchor="end" transform="rotate(-90 104.8 754.5)" >mosaic</text>
<rect x="36.7" y="818.2" width="32" height="4.6" fill="#111"/><rect x="77.6" y="818.2" width="32.1" height="4.6" fill="#111"/>
<text x="53.3" y="840" font-size="18" fill="#000" text-anchor="middle" >co</text>
<text x="53.1" y="859.3" font-size="18" fill="#000" text-anchor="middle" >MO</text>
<text x="94.5" y="840" font-size="18" fill="#84ee38" text-anchor="middle" >pc</text>
<text x="94.5" y="859.3" font-size="18" fill="#84ee38" text-anchor="middle" >MO</text>
</g>
<g id="panelD">
<rect x="201.3" y="523" width="80" height="140.7" fill="#fff" stroke="#2e3436" stroke-width="1.8"/>
<rect x="201.3" y="671.5" width="80" height="139.8" fill="#fff" stroke="#2e3436" stroke-width="1.8"/>
<path d="M197 531.1H200.5" stroke="#444" stroke-width="1"/>
<text x="194.3" y="534.8000000000001" font-size="10.6" fill="#7d8a8b" text-anchor="end" textLength="19.5" lengthAdjust="spacingAndGlyphs">800</text>
<path d="M197 562.8H200.5" stroke="#444" stroke-width="1"/>
<text x="194.3" y="566.5" font-size="10.6" fill="#7d8a8b" text-anchor="end" textLength="19.5" lengthAdjust="spacingAndGlyphs">600</text>
<path d="M197 594.7H200.5" stroke="#444" stroke-width="1"/>
<text x="194.3" y="598.4000000000001" font-size="10.6" fill="#7d8a8b" text-anchor="end" textLength="19.5" lengthAdjust="spacingAndGlyphs">400</text>
<path d="M197 626.4H200.5" stroke="#444" stroke-width="1"/>
<text x="194.3" y="630.1" font-size="10.6" fill="#7d8a8b" text-anchor="end" textLength="19.5" lengthAdjust="spacingAndGlyphs">200</text>
<path d="M197 658.1H200.5" stroke="#444" stroke-width="1"/>
<text x="194.3" y="661.8000000000001" font-size="10.6" fill="#7d8a8b" text-anchor="end" textLength="6.5" lengthAdjust="spacingAndGlyphs">0</text>
<path d="M197 678.7H200.5" stroke="#444" stroke-width="1"/>
<text x="194.3" y="682.4000000000001" font-size="10.6" fill="#7d8a8b" text-anchor="end" textLength="19.5" lengthAdjust="spacingAndGlyphs">800</text>
<path d="M197 711H200.5" stroke="#444" stroke-width="1"/>
<text x="194.3" y="714.7" font-size="10.6" fill="#7d8a8b" text-anchor="end" textLength="19.5" lengthAdjust="spacingAndGlyphs">600</text>
<path d="M197 743H200.5" stroke="#444" stroke-width="1"/>
<text x="194.3" y="746.7" font-size="10.6" fill="#7d8a8b" text-anchor="end" textLength="19.5" lengthAdjust="spacingAndGlyphs">400</text>
<path d="M197 775H200.5" stroke="#444" stroke-width="1"/>
<text x="194.3" y="778.7" font-size="10.6" fill="#7d8a8b" text-anchor="end" textLength="19.5" lengthAdjust="spacingAndGlyphs">200</text>
<path d="M197 807.1H200.5" stroke="#444" stroke-width="1"/>
<text x="194.3" y="810.8000000000001" font-size="10.6" fill="#7d8a8b" text-anchor="end" textLength="6.5" lengthAdjust="spacingAndGlyphs">0</text>
<rect x="204.2" y="641.7" width="8.8" height="16.6" fill="#cfd3d2"/>
<rect x="212.4" y="633" width="9.3" height="25.3" fill="#cfd3d2"/>
<rect x="221.1" y="552.1" width="8.8" height="106.2" fill="#cfd3d2"/>
<rect x="229.3" y="586.5" width="8.8" height="71.8" fill="#cfd3d2"/>
<rect x="237.5" y="576.1" width="8.8" height="82.2" fill="#cfd3d2"/>
<rect x="245.7" y="589" width="8.8" height="69.3" fill="#cfd3d2"/>
<rect x="253.9" y="569.3" width="8.5" height="89.0" fill="#cfd3d2"/>
<rect x="261.8" y="632.1" width="9.1" height="26.2" fill="#cfd3d2"/>
<rect x="270.3" y="645.8" width="9.1" height="12.5" fill="#cfd3d2"/>
<rect x="203.8" y="718.5" width="8.4" height="88.0" fill="#393c3e"/>
<rect x="211.6" y="762" width="9.8" height="44.5" fill="#393c3e"/>
<rect x="220.8" y="696.4" width="8.9" height="110.1" fill="#393c3e"/>
<rect x="229.1" y="755.5" width="9.2" height="51.0" fill="#393c3e"/>
<rect x="237.7" y="751.1" width="8.4" height="55.4" fill="#393c3e"/>
<rect x="245.5" y="753.4" width="8.9" height="53.1" fill="#393c3e"/>
<rect x="253.8" y="676.8" width="8.4" height="129.7" fill="#393c3e"/>
<rect x="261.6" y="742.5" width="8.7" height="64.0" fill="#393c3e"/>
<rect x="269.7" y="752.1" width="9.7" height="54.4" fill="#393c3e"/>
<path d="M240.7 523.8V662.9" stroke="#f5ee0a" stroke-width="3.5"/>
<path d="M240.7 523.8V662.9" stroke="#f8a014" stroke-width="2.3" stroke-dasharray="7.9 8.5"/>
<path d="M240.7 672.3V810.5" stroke="#f5ee0a" stroke-width="3.5"/>
<path d="M240.7 672.3V810.5" stroke="#f8a014" stroke-width="2.3" stroke-dasharray="7.9 8.5"/>
<path d="M207.7 812V815.6" stroke="#444" stroke-width="1"/>
<path d="M228 812V815.6" stroke="#444" stroke-width="1"/>
<path d="M248.1 812V815.6" stroke="#444" stroke-width="1"/>
<path d="M268.2 812V815.6" stroke="#444" stroke-width="1"/>
<text x="203" y="835.5" font-size="17.5" fill="#000" text-anchor="middle" >0</text>
<text x="272.8" y="835.5" font-size="17.5" fill="#000" text-anchor="middle" >1</text>
<text x="241" y="855" font-size="18" fill="#000" text-anchor="middle" >GFP<tspan dy="-6" font-size="12">+</tspan></text>
<text x="241.6" y="874.5" font-size="18" fill="#000" text-anchor="middle" >proportion</text>
<text x="165.5" y="666" font-size="18" fill="#000" text-anchor="middle" transform="rotate(-90 165.5 666)" >Counts</text>
</g>
<g id="panelE">
<text x="332.9" y="502.2" font-size="18.15" fill="#000" text-anchor="start" >(a) Seizure-like behaviors</text>
<rect x="361.9" y="517" width="86.2" height="22.6" fill="#fff" stroke="#000" stroke-width="2"/>
<text x="405" y="533.2" font-size="13.6" fill="#000" text-anchor="middle" >complete</text>
<rect x="451.5" y="516" width="88.5" height="24.6" fill="#0a0a0a"/>
<text x="495.8" y="533.2" font-size="13.6" fill="#fff" text-anchor="middle" >mosaic</text>
<rect x="361.6" y="545.9" width="85.3" height="106.5" fill="#fff" stroke="#3a3a3a" stroke-width="1.4"/>
<rect x="452.8" y="545.9" width="85.3" height="106.5" fill="#fff" stroke="#3a3a3a" stroke-width="1.4"/>
<path d="M357.8 549.9H360.8" stroke="#444" stroke-width="0.9"/>
<text x="356.3" y="553.2" font-size="9.4" fill="#7d8a8b" text-anchor="end" >50</text>
<path d="M357.8 569.6H360.8" stroke="#444" stroke-width="0.9"/>
<text x="356.3" y="572.86" font-size="9.4" fill="#7d8a8b" text-anchor="end" >40</text>
<path d="M357.8 589.2H360.8" stroke="#444" stroke-width="0.9"/>
<text x="356.3" y="592.52" font-size="9.4" fill="#7d8a8b" text-anchor="end" >30</text>
<path d="M357.8 608.9H360.8" stroke="#444" stroke-width="0.9"/>
<text x="356.3" y="612.18" font-size="9.4" fill="#7d8a8b" text-anchor="end" >20</text>
<path d="M357.8 628.5H360.8" stroke="#444" stroke-width="0.9"/>
<text x="356.3" y="631.84" font-size="9.4" fill="#7d8a8b" text-anchor="end" >10</text>
<path d="M357.8 648.2H360.8" stroke="#444" stroke-width="0.9"/>
<text x="356.3" y="651.5" font-size="9.4" fill="#7d8a8b" text-anchor="end" >0</text>
<path d="M371.7 652.6V655.6" stroke="#444" stroke-width="0.9"/>
<path d="M393.4 652.6V655.6" stroke="#444" stroke-width="0.9"/>
<path d="M415 652.6V655.6" stroke="#444" stroke-width="0.9"/>
<path d="M436.7 652.6V655.6" stroke="#444" stroke-width="0.9"/>
<path d="M463.5 652.6V655.6" stroke="#444" stroke-width="0.9"/>
<path d="M485.2 652.6V655.6" stroke="#444" stroke-width="0.9"/>
<path d="M506.8 652.6V655.6" stroke="#444" stroke-width="0.9"/>
<path d="M528.5 652.6V655.6" stroke="#444" stroke-width="0.9"/>
<rect x="367.0" y="646.7" width="7.4" height="3" fill="#3d5cf0"/>
<rect x="373.5" y="646.7" width="7.4" height="3" fill="#f2242e"/>
<rect x="387.9" y="646.7" width="7.4" height="3" fill="#3d5cf0"/>
<rect x="393.4" y="642.8" width="7.4" height="3" fill="#f2242e"/>
<circle cx="397.0" cy="608.9" r="1.1" fill="#f58aa8" opacity="1"/>
<circle cx="397.1" cy="632.5" r="1.1" fill="#f58aa8" opacity="1"/>
<circle cx="397.1" cy="646.2" r="1.1" fill="#f58aa8" opacity="1"/>
<circle cx="397.3" cy="647.2" r="1.1" fill="#f58aa8" opacity="1"/>
<rect x="408.5" y="646.7" width="7.4" height="3" fill="#3d5cf0"/>
<rect x="414.0" y="617.2" width="7.4" height="3" fill="#f2242e"/>
<circle cx="418.0" cy="589.2" r="1.1" fill="#f58aa8" opacity="1"/>
<circle cx="418.1" cy="606.9" r="1.1" fill="#f58aa8" opacity="1"/>
<circle cx="417.3" cy="620.7" r="1.1" fill="#f58aa8" opacity="1"/>
<circle cx="417.7" cy="634.4" r="1.1" fill="#f58aa8" opacity="1"/>
<circle cx="418.2" cy="636.4" r="1.1" fill="#f58aa8" opacity="1"/>
<circle cx="417.9" cy="638.4" r="1.1" fill="#f58aa8" opacity="1"/>
<circle cx="418.1" cy="640.3" r="1.1" fill="#f58aa8" opacity="1"/>
<circle cx="417.3" cy="648.2" r="1.1" fill="#f58aa8" opacity="1"/>
<rect x="429.1" y="645.7" width="7.4" height="3" fill="#3d5cf0"/>
<rect x="434.6" y="603.4" width="7.4" height="3" fill="#f2242e"/>
<circle cx="438.3" cy="567.6" r="1.1" fill="#f58aa8" opacity="1"/>
<circle cx="438.1" cy="573.5" r="1.1" fill="#f58aa8" opacity="1"/>
<circle cx="438.4" cy="581.4" r="1.1" fill="#f58aa8" opacity="1"/>
<circle cx="438.4" cy="591.2" r="1.1" fill="#f58aa8" opacity="1"/>
<circle cx="437.8" cy="597.1" r="1.1" fill="#f58aa8" opacity="1"/>
<circle cx="438.0" cy="601.0" r="1.1" fill="#f58aa8" opacity="1"/>
<circle cx="438.1" cy="603.0" r="1.1" fill="#f58aa8" opacity="1"/>
<circle cx="438.7" cy="606.9" r="1.1" fill="#f58aa8" opacity="1"/>
<circle cx="438.6" cy="608.9" r="1.1" fill="#f58aa8" opacity="1"/>
<circle cx="438.0" cy="612.8" r="1.1" fill="#f58aa8" opacity="1"/>
<circle cx="438.6" cy="616.7" r="1.1" fill="#f58aa8" opacity="1"/>
<circle cx="438.0" cy="620.7" r="1.1" fill="#f58aa8" opacity="1"/>
<circle cx="438.4" cy="624.6" r="1.1" fill="#f58aa8" opacity="1"/>
<circle cx="437.9" cy="626.6" r="1.1" fill="#f58aa8" opacity="1"/>
<circle cx="437.8" cy="630.5" r="1.1" fill="#f58aa8" opacity="1"/>
<circle cx="438.7" cy="632.5" r="1.1" fill="#f58aa8" opacity="1"/>
<circle cx="438.0" cy="636.4" r="1.1" fill="#f58aa8" opacity="1"/>
<circle cx="438.0" cy="638.4" r="1.1" fill="#f58aa8" opacity="1"/>
<circle cx="438.8" cy="642.3" r="1.1" fill="#f58aa8" opacity="1"/>
<circle cx="438.7" cy="644.3" r="1.1" fill="#f58aa8" opacity="1"/>
<circle cx="438.1" cy="646.2" r="1.1" fill="#f58aa8" opacity="1"/>
<circle cx="438.8" cy="648.2" r="1.1" fill="#f58aa8" opacity="1"/>
<circle cx="432.8" cy="630.5" r="1.2" fill="#7f92f5" opacity="1"/>
<circle cx="433.0" cy="634.4" r="1.2" fill="#7f92f5" opacity="1"/>
<rect x="457.7" y="646.7" width="7.4" height="3" fill="#3d5cf0"/>
<rect x="464.1" y="646.7" width="7.4" height="3" fill="#f2242e"/>
<rect x="478.6" y="646.7" width="7.4" height="3" fill="#3d5cf0"/>
<rect x="484.1" y="645.7" width="7.4" height="3" fill="#f2242e"/>
<circle cx="487.2" cy="632.5" r="1.0" fill="#f58aa8" opacity="1"/>
<circle cx="487.9" cy="638.4" r="1.0" fill="#f58aa8" opacity="1"/>
<rect x="499.2" y="646.7" width="7.4" height="3" fill="#3d5cf0"/>
<rect x="504.7" y="621.1" width="7.4" height="3" fill="#f2242e"/>
<circle cx="508.3" cy="577.4" r="1.0" fill="#f58aa8" opacity="1"/>
<circle cx="508.5" cy="595.1" r="1.0" fill="#f58aa8" opacity="1"/>
<circle cx="508.5" cy="601.0" r="1.0" fill="#f58aa8" opacity="1"/>
<circle cx="507.9" cy="604.9" r="1.0" fill="#f58aa8" opacity="1"/>
<circle cx="507.9" cy="608.9" r="1.0" fill="#f58aa8" opacity="1"/>
<circle cx="507.7" cy="612.8" r="1.0" fill="#f58aa8" opacity="1"/>
<circle cx="507.7" cy="616.7" r="1.0" fill="#f58aa8" opacity="1"/>
<circle cx="507.6" cy="620.7" r="1.0" fill="#f58aa8" opacity="1"/>
<circle cx="507.9" cy="624.6" r="1.0" fill="#f58aa8" opacity="1"/>
<circle cx="508.2" cy="628.5" r="1.0" fill="#f58aa8" opacity="1"/>
<circle cx="507.6" cy="632.5" r="1.0" fill="#f58aa8" opacity="1"/>
<circle cx="508.3" cy="636.4" r="1.0" fill="#f58aa8" opacity="1"/>
<circle cx="507.9" cy="640.3" r="1.0" fill="#f58aa8" opacity="1"/>
<circle cx="507.9" cy="644.3" r="1.0" fill="#f58aa8" opacity="1"/>
<circle cx="508.4" cy="646.2" r="1.0" fill="#f58aa8" opacity="1"/>
<circle cx="508.1" cy="648.2" r="1.0" fill="#f58aa8" opacity="1"/>
<rect x="519.7" y="645.7" width="7.4" height="3" fill="#3d5cf0"/>
<rect x="525.3" y="627.0" width="7.4" height="3" fill="#f2242e"/>
<circle cx="528.8" cy="551.9" r="1.0" fill="#f58aa8" opacity="1"/>
<circle cx="529.0" cy="555.8" r="1.0" fill="#f58aa8" opacity="1"/>
<circle cx="529.2" cy="577.4" r="1.0" fill="#f58aa8" opacity="1"/>
<circle cx="528.5" cy="589.2" r="1.0" fill="#f58aa8" opacity="1"/>
<circle cx="529.4" cy="599.1" r="1.0" fill="#f58aa8" opacity="1"/>
<circle cx="528.5" cy="608.9" r="1.0" fill="#f58aa8" opacity="1"/>
<circle cx="529.2" cy="614.8" r="1.0" fill="#f58aa8" opacity="1"/>
<circle cx="529.3" cy="618.7" r="1.0" fill="#f58aa8" opacity="1"/>
<circle cx="528.5" cy="624.6" r="1.0" fill="#f58aa8" opacity="1"/>
<circle cx="529.3" cy="630.5" r="1.0" fill="#f58aa8" opacity="1"/>
<circle cx="528.8" cy="634.4" r="1.0" fill="#f58aa8" opacity="1"/>
<circle cx="529.1" cy="638.4" r="1.0" fill="#f58aa8" opacity="1"/>
<circle cx="528.5" cy="642.3" r="1.0" fill="#f58aa8" opacity="1"/>
<circle cx="528.5" cy="644.3" r="1.0" fill="#f58aa8" opacity="1"/>
<circle cx="528.7" cy="646.2" r="1.0" fill="#f58aa8" opacity="1"/>
<circle cx="529.4" cy="648.2" r="1.0" fill="#f58aa8" opacity="1"/>
<circle cx="522.5" cy="610.8" r="1.0" fill="#7f92f5" opacity="1"/>
<circle cx="523.1" cy="642.3" r="1.0" fill="#7f92f5" opacity="1"/>
<circle cx="523.3" cy="644.3" r="1.0" fill="#7f92f5" opacity="1"/>
<path d="M410 591.3H420.8" stroke="#111" stroke-width="2.2"/>
<text x="416.0" y="591.5" font-size="17" fill="#000" text-anchor="middle" stroke="#000" stroke-width="0.45">**</text>
<path d="M429.7 566.1H439.9" stroke="#111" stroke-width="2.2"/>
<text x="435.4" y="569.6" font-size="17" fill="#000" text-anchor="middle" stroke="#000" stroke-width="0.45">***</text>
<path d="M500.4 581.5H511.1" stroke="#111" stroke-width="2.2"/>
<text x="506.35" y="580.7" font-size="17" fill="#000" text-anchor="middle" stroke="#000" stroke-width="0.45">***</text>
<path d="M520.7 564.6H532" stroke="#111" stroke-width="2.2"/>
<text x="526.95" y="567.9" font-size="17" fill="#000" text-anchor="middle" stroke="#000" stroke-width="0.45">***</text>
<path d="M437.7 598.1H533.6" stroke="#111" stroke-width="1.7" stroke-dasharray="9 3.5"/>
<text x="481.3" y="592.5" font-size="13.5" fill="#000" text-anchor="middle" >ns</text>
<text x="335.5" y="583" font-size="18" fill="#000" text-anchor="middle" transform="rotate(-90 335.5 583)" >seconds</text>
<text x="339" y="658" font-size="13" fill="#000" text-anchor="middle" transform="rotate(-90 339 658)" >stage</text>
<text x="358.4" y="670.7" font-size="15" fill="#000" text-anchor="middle" >43</text>
<text x="357.7" y="873.6" font-size="15" fill="#000" text-anchor="middle" >43</text>
<text x="381.5" y="670.7" font-size="15" fill="#000" text-anchor="middle" >45</text>
<text x="380.8" y="873.6" font-size="15" fill="#000" text-anchor="middle" >45</text>
<text x="405.4" y="670.7" font-size="15" fill="#000" text-anchor="middle" >47</text>
<text x="404.7" y="873.6" font-size="15" fill="#000" text-anchor="middle" >47</text>
<text x="429.1" y="670.7" font-size="15" fill="#000" text-anchor="middle" >49</text>
<text x="428.40000000000003" y="873.6" font-size="15" fill="#000" text-anchor="middle" >49</text>
<text x="455.2" y="670.7" font-size="15" fill="#000" text-anchor="middle" >43</text>
<text x="454.7" y="873.6" font-size="15" fill="#000" text-anchor="middle" >43</text>
<text x="478.9" y="670.7" font-size="15" fill="#000" text-anchor="middle" >45</text>
<text x="478.4" y="873.6" font-size="15" fill="#000" text-anchor="middle" >45</text>
<text x="501.9" y="670.7" font-size="15" fill="#000" text-anchor="middle" >47</text>
<text x="501.4" y="873.6" font-size="15" fill="#000" text-anchor="middle" >47</text>
<text x="525.3" y="670.7" font-size="15" fill="#000" text-anchor="middle" >49</text>
<text x="524.8" y="873.6" font-size="15" fill="#000" text-anchor="middle" >49</text>
<text x="332.9" y="706.1" font-size="18.1" fill="#000" text-anchor="start" >(b) Center-dwell tendency</text>
<rect x="356.3" y="723.4" width="86.2" height="22.6" fill="#fff" stroke="#000" stroke-width="2"/>
<text x="399.4" y="739.8" font-size="13.6" fill="#000" text-anchor="middle" >complete</text>
<rect x="445.4" y="722.4" width="88.2" height="24.6" fill="#0a0a0a"/>
<text x="489.5" y="739.8" font-size="13.6" fill="#fff" text-anchor="middle" >mosaic</text>
<rect x="356" y="751.3" width="86.2" height="106.8" fill="#fff" stroke="#3a3a3a" stroke-width="1.4"/>
<rect x="447.3" y="751.3" width="85.6" height="106.8" fill="#fff" stroke="#3a3a3a" stroke-width="1.4"/>
<path d="M352.2 756.2H355.2" stroke="#444" stroke-width="0.9"/>
<text x="350.8" y="759.5" font-size="9.4" fill="#7d8a8b" text-anchor="end" >100</text>
<path d="M352.2 780.7H355.2" stroke="#444" stroke-width="0.9"/>
<text x="350.8" y="784.0" font-size="9.4" fill="#7d8a8b" text-anchor="end" >75</text>
<path d="M352.2 805.2H355.2" stroke="#444" stroke-width="0.9"/>
<text x="350.8" y="808.5" font-size="9.4" fill="#7d8a8b" text-anchor="end" >50</text>
<path d="M352.2 829.7H355.2" stroke="#444" stroke-width="0.9"/>
<text x="350.8" y="833.0" font-size="9.4" fill="#7d8a8b" text-anchor="end" >25</text>
<path d="M352.2 854.2H355.2" stroke="#444" stroke-width="0.9"/>
<text x="350.8" y="857.5" font-size="9.4" fill="#7d8a8b" text-anchor="end" >0</text>
<path d="M365.6 845.3V849.0M365.6 852.0V854.2" stroke="#444" stroke-width="0.7" fill="none"/>
<rect x="363.0" y="849.0" width="5.2" height="3.1" fill="#c3c8f4" stroke="#555" stroke-width="0.8"/>
<path d="M363.0 850.2H368.2" stroke="#222" stroke-width="1.1"/>
<path d="M371.3 808.1V832.1M371.3 850.5V854.2" stroke="#444" stroke-width="0.7" fill="none"/>
<rect x="368.6" y="832.1" width="5.5" height="18.4" fill="#f7b9cc" stroke="#555" stroke-width="0.8"/>
<path d="M368.6 848.1H374.1" stroke="#222" stroke-width="1.1"/>
<circle cx="366.3" cy="791.2" r="1.2" fill="#4a66ee" opacity="0.75"/>
<circle cx="365.3" cy="844.7" r="1.2" fill="#4a66ee" opacity="0.75"/>
<circle cx="365.3" cy="850.7" r="1.2" fill="#4a66ee" opacity="0.75"/>
<circle cx="365.0" cy="850.0" r="1.2" fill="#4a66ee" opacity="0.75"/>
<circle cx="366.7" cy="848.3" r="1.2" fill="#4a66ee" opacity="0.75"/>
<circle cx="366.2" cy="845.3" r="1.2" fill="#4a66ee" opacity="0.75"/>
<circle cx="366.5" cy="851.8" r="1.2" fill="#4a66ee" opacity="0.75"/>
<circle cx="366.0" cy="852.0" r="1.2" fill="#4a66ee" opacity="0.75"/>
<circle cx="365.0" cy="848.7" r="1.2" fill="#4a66ee" opacity="0.75"/>
<circle cx="365.5" cy="848.6" r="1.2" fill="#4a66ee" opacity="0.75"/>
<circle cx="365.8" cy="845.5" r="1.2" fill="#4a66ee" opacity="0.75"/>
<circle cx="365.1" cy="842.9" r="1.2" fill="#4a66ee" opacity="0.75"/>
<circle cx="366.6" cy="847.0" r="1.2" fill="#4a66ee" opacity="0.75"/>
<circle cx="365.6" cy="849.5" r="1.2" fill="#4a66ee" opacity="0.75"/>
<circle cx="365.2" cy="843.6" r="1.2" fill="#4a66ee" opacity="0.75"/>
<circle cx="370.8" cy="786.9" r="1.2" fill="#ee3344" opacity="0.75"/>
<circle cx="372.1" cy="792.1" r="1.2" fill="#ee3344" opacity="0.75"/>
<circle cx="372.0" cy="846.5" r="1.2" fill="#ee3344" opacity="0.75"/>
<circle cx="371.2" cy="817.4" r="1.2" fill="#ee3344" opacity="0.75"/>
<circle cx="371.1" cy="851.2" r="1.2" fill="#ee3344" opacity="0.75"/>
<circle cx="371.2" cy="831.2" r="1.2" fill="#ee3344" opacity="0.75"/>
<circle cx="371.1" cy="835.3" r="1.2" fill="#ee3344" opacity="0.75"/>
<circle cx="372.2" cy="826.5" r="1.2" fill="#ee3344" opacity="0.75"/>
<circle cx="371.1" cy="832.5" r="1.2" fill="#ee3344" opacity="0.75"/>
<circle cx="370.5" cy="820.0" r="1.2" fill="#ee3344" opacity="0.75"/>
<circle cx="370.6" cy="813.7" r="1.2" fill="#ee3344" opacity="0.75"/>
<circle cx="371.7" cy="848.6" r="1.2" fill="#ee3344" opacity="0.75"/>
<circle cx="372.2" cy="822.0" r="1.2" fill="#ee3344" opacity="0.75"/>
<circle cx="371.3" cy="844.9" r="1.2" fill="#ee3344" opacity="0.75"/>
<circle cx="371.3" cy="820.9" r="1.2" fill="#ee3344" opacity="0.75"/>
<circle cx="371.4" cy="852.9" r="1.2" fill="#ee3344" opacity="0.75"/>
<circle cx="371.8" cy="849.7" r="1.2" fill="#ee3344" opacity="0.75"/>
<circle cx="370.8" cy="843.9" r="1.2" fill="#ee3344" opacity="0.75"/>
<circle cx="371.5" cy="844.2" r="1.2" fill="#ee3344" opacity="0.75"/>
<circle cx="371.4" cy="836.5" r="1.2" fill="#ee3344" opacity="0.75"/>
<circle cx="371.5" cy="842.8" r="1.2" fill="#ee3344" opacity="0.75"/>
<circle cx="370.7" cy="817.3" r="1.2" fill="#ee3344" opacity="0.75"/>
<circle cx="370.7" cy="832.2" r="1.2" fill="#ee3344" opacity="0.75"/>
<circle cx="371.0" cy="846.9" r="1.2" fill="#ee3344" opacity="0.75"/>
<path d="M386.4 833.0V838.8M386.4 854.2V854.2" stroke="#444" stroke-width="0.7" fill="none"/>
<rect x="383.6" y="838.8" width="5.5" height="15.4" fill="#c3c8f4" stroke="#555" stroke-width="0.8"/>
<path d="M383.6 849.0H389.1" stroke="#222" stroke-width="1.1"/>
<path d="M392.2 783.5V817.0M392.2 852.0V854.2" stroke="#444" stroke-width="0.7" fill="none"/>
<rect x="389.5" y="817.0" width="5.5" height="35.0" fill="#f7b9cc" stroke="#555" stroke-width="0.8"/>
<path d="M389.5 848.1H395.0" stroke="#222" stroke-width="1.1"/>
<circle cx="387.2" cy="762.0" r="1.2" fill="#4a66ee" opacity="0.75"/>
<circle cx="386.2" cy="769.1" r="1.2" fill="#4a66ee" opacity="0.75"/>
<circle cx="387.3" cy="775.2" r="1.2" fill="#4a66ee" opacity="0.75"/>
<circle cx="387.2" cy="779.8" r="1.2" fill="#4a66ee" opacity="0.75"/>
<circle cx="386.5" cy="852.7" r="1.2" fill="#4a66ee" opacity="0.75"/>
<circle cx="387.1" cy="840.7" r="1.2" fill="#4a66ee" opacity="0.75"/>
<circle cx="386.4" cy="845.9" r="1.2" fill="#4a66ee" opacity="0.75"/>
<circle cx="386.2" cy="839.9" r="1.2" fill="#4a66ee" opacity="0.75"/>
<circle cx="385.9" cy="835.7" r="1.2" fill="#4a66ee" opacity="0.75"/>
<circle cx="387.1" cy="835.0" r="1.2" fill="#4a66ee" opacity="0.75"/>
<circle cx="385.8" cy="850.4" r="1.2" fill="#4a66ee" opacity="0.75"/>
<circle cx="385.6" cy="849.6" r="1.2" fill="#4a66ee" opacity="0.75"/>
<circle cx="386.9" cy="841.3" r="1.2" fill="#4a66ee" opacity="0.75"/>
<circle cx="386.9" cy="847.7" r="1.2" fill="#4a66ee" opacity="0.75"/>
<circle cx="386.3" cy="847.5" r="1.2" fill="#4a66ee" opacity="0.75"/>
<circle cx="387.0" cy="852.1" r="1.2" fill="#4a66ee" opacity="0.75"/>
<circle cx="391.7" cy="756.2" r="1.2" fill="#ee3344" opacity="0.75"/>
<circle cx="392.8" cy="788.1" r="1.2" fill="#ee3344" opacity="0.75"/>
<circle cx="392.8" cy="802.4" r="1.2" fill="#ee3344" opacity="0.75"/>
<circle cx="392.9" cy="804.7" r="1.2" fill="#ee3344" opacity="0.75"/>
<circle cx="392.4" cy="813.7" r="1.2" fill="#ee3344" opacity="0.75"/>
<circle cx="392.1" cy="796.3" r="1.2" fill="#ee3344" opacity="0.75"/>
<circle cx="392.4" cy="789.3" r="1.2" fill="#ee3344" opacity="0.75"/>
<circle cx="392.8" cy="808.0" r="1.2" fill="#ee3344" opacity="0.75"/>
<circle cx="391.9" cy="847.2" r="1.2" fill="#ee3344" opacity="0.75"/>
<circle cx="392.3" cy="853.0" r="1.2" fill="#ee3344" opacity="0.75"/>
<circle cx="391.8" cy="836.5" r="1.2" fill="#ee3344" opacity="0.75"/>
<circle cx="392.7" cy="817.9" r="1.2" fill="#ee3344" opacity="0.75"/>
<circle cx="391.3" cy="802.0" r="1.2" fill="#ee3344" opacity="0.75"/>
<circle cx="392.6" cy="851.3" r="1.2" fill="#ee3344" opacity="0.75"/>
<circle cx="393.0" cy="821.1" r="1.2" fill="#ee3344" opacity="0.75"/>
<circle cx="391.4" cy="835.3" r="1.2" fill="#ee3344" opacity="0.75"/>
<circle cx="392.4" cy="786.4" r="1.2" fill="#ee3344" opacity="0.75"/>
<path d="M407.3 801.3V833.0M407.3 852.0V854.2" stroke="#444" stroke-width="0.7" fill="none"/>
<rect x="404.5" y="833.0" width="5.5" height="19.1" fill="#c3c8f4" stroke="#555" stroke-width="0.8"/>
<path d="M404.5 843.1H410.0" stroke="#222" stroke-width="1.1"/>
<path d="M413.1 766.0V792.1M413.1 840.4V854.2" stroke="#444" stroke-width="0.7" fill="none"/>
<rect x="410.4" y="792.1" width="5.5" height="48.2" fill="#f7b9cc" stroke="#555" stroke-width="0.8"/>
<path d="M410.4 813.6H415.9" stroke="#222" stroke-width="1.1"/>
<circle cx="406.7" cy="778.9" r="1.2" fill="#4a66ee" opacity="0.75"/>
<circle cx="406.7" cy="790.6" r="1.2" fill="#4a66ee" opacity="0.75"/>
<circle cx="407.1" cy="793.7" r="1.2" fill="#4a66ee" opacity="0.75"/>
<circle cx="407.7" cy="834.8" r="1.2" fill="#4a66ee" opacity="0.75"/>
<circle cx="407.4" cy="846.1" r="1.2" fill="#4a66ee" opacity="0.75"/>
<circle cx="406.5" cy="831.6" r="1.2" fill="#4a66ee" opacity="0.75"/>
<circle cx="407.7" cy="813.8" r="1.2" fill="#4a66ee" opacity="0.75"/>
<circle cx="408.0" cy="821.9" r="1.2" fill="#4a66ee" opacity="0.75"/>
<circle cx="407.8" cy="852.0" r="1.2" fill="#4a66ee" opacity="0.75"/>
<circle cx="407.8" cy="849.1" r="1.2" fill="#4a66ee" opacity="0.75"/>
<circle cx="406.4" cy="807.1" r="1.2" fill="#4a66ee" opacity="0.75"/>
<circle cx="407.2" cy="805.0" r="1.2" fill="#4a66ee" opacity="0.75"/>
<circle cx="406.5" cy="804.9" r="1.2" fill="#4a66ee" opacity="0.75"/>
<circle cx="407.8" cy="801.2" r="1.2" fill="#4a66ee" opacity="0.75"/>
<circle cx="406.7" cy="824.1" r="1.2" fill="#4a66ee" opacity="0.75"/>
<circle cx="407.7" cy="807.5" r="1.2" fill="#4a66ee" opacity="0.75"/>
<circle cx="406.8" cy="847.0" r="1.2" fill="#4a66ee" opacity="0.75"/>
<circle cx="407.6" cy="835.4" r="1.2" fill="#4a66ee" opacity="0.75"/>
<circle cx="406.9" cy="806.7" r="1.2" fill="#4a66ee" opacity="0.75"/>
<circle cx="406.5" cy="829.1" r="1.2" fill="#4a66ee" opacity="0.75"/>
<circle cx="407.1" cy="817.4" r="1.2" fill="#4a66ee" opacity="0.75"/>
<circle cx="406.9" cy="826.7" r="1.2" fill="#4a66ee" opacity="0.75"/>
<circle cx="408.0" cy="811.7" r="1.2" fill="#4a66ee" opacity="0.75"/>
<circle cx="413.0" cy="792.0" r="1.2" fill="#ee3344" opacity="0.75"/>
<circle cx="413.3" cy="810.4" r="1.2" fill="#ee3344" opacity="0.75"/>
<circle cx="412.3" cy="814.4" r="1.2" fill="#ee3344" opacity="0.75"/>
<circle cx="413.4" cy="849.6" r="1.2" fill="#ee3344" opacity="0.75"/>
<circle cx="413.0" cy="774.7" r="1.2" fill="#ee3344" opacity="0.75"/>
<circle cx="413.1" cy="819.0" r="1.2" fill="#ee3344" opacity="0.75"/>
<circle cx="412.9" cy="810.8" r="1.2" fill="#ee3344" opacity="0.75"/>
<circle cx="412.9" cy="830.8" r="1.2" fill="#ee3344" opacity="0.75"/>
<circle cx="412.6" cy="851.3" r="1.2" fill="#ee3344" opacity="0.75"/>
<circle cx="412.3" cy="793.4" r="1.2" fill="#ee3344" opacity="0.75"/>
<circle cx="413.0" cy="827.7" r="1.2" fill="#ee3344" opacity="0.75"/>
<circle cx="412.7" cy="812.4" r="1.2" fill="#ee3344" opacity="0.75"/>
<circle cx="413.5" cy="815.4" r="1.2" fill="#ee3344" opacity="0.75"/>
<circle cx="413.7" cy="771.6" r="1.2" fill="#ee3344" opacity="0.75"/>
<circle cx="413.5" cy="837.9" r="1.2" fill="#ee3344" opacity="0.75"/>
<circle cx="413.0" cy="852.2" r="1.2" fill="#ee3344" opacity="0.75"/>
<circle cx="412.6" cy="797.3" r="1.2" fill="#ee3344" opacity="0.75"/>
<circle cx="412.9" cy="794.1" r="1.2" fill="#ee3344" opacity="0.75"/>
<circle cx="413.1" cy="853.6" r="1.2" fill="#ee3344" opacity="0.75"/>
<circle cx="413.4" cy="775.5" r="1.2" fill="#ee3344" opacity="0.75"/>
<circle cx="413.9" cy="772.7" r="1.2" fill="#ee3344" opacity="0.75"/>
<circle cx="412.4" cy="772.5" r="1.2" fill="#ee3344" opacity="0.75"/>
<circle cx="413.1" cy="837.8" r="1.2" fill="#ee3344" opacity="0.75"/>
<circle cx="413.1" cy="833.0" r="1.2" fill="#ee3344" opacity="0.75"/>
<path d="M428.0 822.9V841.3M428.0 853.0V854.2" stroke="#444" stroke-width="0.7" fill="none"/>
<rect x="425.4" y="841.3" width="5.2" height="11.7" fill="#c3c8f4" stroke="#555" stroke-width="0.8"/>
<path d="M425.4 848.1H430.6" stroke="#222" stroke-width="1.1"/>
<path d="M433.6 815.8V833.0M433.6 851.4V854.2" stroke="#444" stroke-width="0.7" fill="none"/>
<rect x="430.9" y="833.0" width="5.2" height="18.4" fill="#f7b9cc" stroke="#555" stroke-width="0.8"/>
<path d="M430.9 844.4H436.2" stroke="#222" stroke-width="1.1"/>
<circle cx="427.1" cy="802.9" r="1.2" fill="#4a66ee" opacity="0.75"/>
<circle cx="427.5" cy="807.5" r="1.2" fill="#4a66ee" opacity="0.75"/>
<circle cx="428.7" cy="845.3" r="1.2" fill="#4a66ee" opacity="0.75"/>
<circle cx="428.3" cy="850.8" r="1.2" fill="#4a66ee" opacity="0.75"/>
<circle cx="427.8" cy="847.3" r="1.2" fill="#4a66ee" opacity="0.75"/>
<circle cx="427.2" cy="842.5" r="1.2" fill="#4a66ee" opacity="0.75"/>
<circle cx="428.7" cy="846.6" r="1.2" fill="#4a66ee" opacity="0.75"/>
<circle cx="428.2" cy="843.8" r="1.2" fill="#4a66ee" opacity="0.75"/>
<circle cx="427.3" cy="849.8" r="1.2" fill="#4a66ee" opacity="0.75"/>
<circle cx="427.6" cy="844.8" r="1.2" fill="#4a66ee" opacity="0.75"/>
<circle cx="428.1" cy="844.3" r="1.2" fill="#4a66ee" opacity="0.75"/>
<circle cx="428.2" cy="830.5" r="1.2" fill="#4a66ee" opacity="0.75"/>
<circle cx="427.4" cy="851.6" r="1.2" fill="#4a66ee" opacity="0.75"/>
<circle cx="428.7" cy="834.9" r="1.2" fill="#4a66ee" opacity="0.75"/>
<circle cx="427.5" cy="842.1" r="1.2" fill="#4a66ee" opacity="0.75"/>
<circle cx="427.4" cy="848.7" r="1.2" fill="#4a66ee" opacity="0.75"/>
<circle cx="428.5" cy="853.1" r="1.2" fill="#4a66ee" opacity="0.75"/>
<circle cx="427.2" cy="853.9" r="1.2" fill="#4a66ee" opacity="0.75"/>
<circle cx="428.2" cy="823.1" r="1.2" fill="#4a66ee" opacity="0.75"/>
<circle cx="427.3" cy="832.7" r="1.2" fill="#4a66ee" opacity="0.75"/>
<circle cx="428.0" cy="832.6" r="1.2" fill="#4a66ee" opacity="0.75"/>
<circle cx="427.5" cy="835.1" r="1.2" fill="#4a66ee" opacity="0.75"/>
<circle cx="427.6" cy="827.4" r="1.2" fill="#4a66ee" opacity="0.75"/>
<circle cx="428.7" cy="840.2" r="1.2" fill="#4a66ee" opacity="0.75"/>
<circle cx="432.7" cy="802.9" r="1.2" fill="#ee3344" opacity="0.75"/>
<circle cx="433.9" cy="803.5" r="1.2" fill="#ee3344" opacity="0.75"/>
<circle cx="434.0" cy="834.2" r="1.2" fill="#ee3344" opacity="0.75"/>
<circle cx="433.5" cy="833.1" r="1.2" fill="#ee3344" opacity="0.75"/>
<circle cx="432.6" cy="839.8" r="1.2" fill="#ee3344" opacity="0.75"/>
<circle cx="432.8" cy="827.2" r="1.2" fill="#ee3344" opacity="0.75"/>
<circle cx="433.2" cy="823.2" r="1.2" fill="#ee3344" opacity="0.75"/>
<circle cx="433.5" cy="831.1" r="1.2" fill="#ee3344" opacity="0.75"/>
<circle cx="432.9" cy="826.9" r="1.2" fill="#ee3344" opacity="0.75"/>
<circle cx="433.9" cy="823.8" r="1.2" fill="#ee3344" opacity="0.75"/>
<circle cx="434.0" cy="852.7" r="1.2" fill="#ee3344" opacity="0.75"/>
<circle cx="434.2" cy="818.0" r="1.2" fill="#ee3344" opacity="0.75"/>
<circle cx="434.1" cy="847.1" r="1.2" fill="#ee3344" opacity="0.75"/>
<circle cx="432.5" cy="851.8" r="1.2" fill="#ee3344" opacity="0.75"/>
<circle cx="433.5" cy="843.1" r="1.2" fill="#ee3344" opacity="0.75"/>
<circle cx="432.6" cy="817.4" r="1.2" fill="#ee3344" opacity="0.75"/>
<circle cx="434.1" cy="835.5" r="1.2" fill="#ee3344" opacity="0.75"/>
<circle cx="433.8" cy="818.2" r="1.2" fill="#ee3344" opacity="0.75"/>
<circle cx="433.9" cy="839.5" r="1.2" fill="#ee3344" opacity="0.75"/>
<circle cx="432.8" cy="843.0" r="1.2" fill="#ee3344" opacity="0.75"/>
<circle cx="432.6" cy="825.7" r="1.2" fill="#ee3344" opacity="0.75"/>
<circle cx="434.0" cy="817.0" r="1.2" fill="#ee3344" opacity="0.75"/>
<circle cx="433.6" cy="837.1" r="1.2" fill="#ee3344" opacity="0.75"/>
<circle cx="433.6" cy="820.2" r="1.2" fill="#ee3344" opacity="0.75"/>
<circle cx="433.3" cy="828.3" r="1.2" fill="#ee3344" opacity="0.75"/>
<circle cx="433.9" cy="833.7" r="1.2" fill="#ee3344" opacity="0.75"/>
<circle cx="433.1" cy="850.2" r="1.2" fill="#ee3344" opacity="0.75"/>
<circle cx="433.0" cy="830.6" r="1.2" fill="#ee3344" opacity="0.75"/>
<path d="M456.6 839.8V845.3M456.6 850.5V854.2" stroke="#444" stroke-width="0.7" fill="none"/>
<rect x="454.3" y="845.3" width="4.6" height="5.2" fill="#c3c8f4" stroke="#555" stroke-width="0.8"/>
<path d="M454.3 848.1H458.9" stroke="#222" stroke-width="1.1"/>
<path d="M461.8 835.1V840.4M461.8 850.5V854.2" stroke="#444" stroke-width="0.7" fill="none"/>
<rect x="459.2" y="840.4" width="5.2" height="10.1" fill="#f7b9cc" stroke="#555" stroke-width="0.8"/>
<path d="M459.2 849.0H464.4" stroke="#222" stroke-width="1.1"/>
<circle cx="456.7" cy="814.2" r="1.2" fill="#4a66ee" opacity="0.75"/>
<circle cx="457.1" cy="844.9" r="1.2" fill="#4a66ee" opacity="0.75"/>
<circle cx="457.0" cy="844.1" r="1.2" fill="#4a66ee" opacity="0.75"/>
<circle cx="456.1" cy="848.8" r="1.2" fill="#4a66ee" opacity="0.75"/>
<circle cx="456.0" cy="852.6" r="1.2" fill="#4a66ee" opacity="0.75"/>
<circle cx="457.5" cy="840.8" r="1.2" fill="#4a66ee" opacity="0.75"/>
<circle cx="456.8" cy="840.7" r="1.2" fill="#4a66ee" opacity="0.75"/>
<circle cx="456.6" cy="847.1" r="1.2" fill="#4a66ee" opacity="0.75"/>
<circle cx="457.1" cy="849.5" r="1.2" fill="#4a66ee" opacity="0.75"/>
<circle cx="457.2" cy="842.5" r="1.2" fill="#4a66ee" opacity="0.75"/>
<circle cx="456.8" cy="843.7" r="1.2" fill="#4a66ee" opacity="0.75"/>
<circle cx="456.0" cy="840.6" r="1.2" fill="#4a66ee" opacity="0.75"/>
<circle cx="457.3" cy="840.3" r="1.2" fill="#4a66ee" opacity="0.75"/>
<circle cx="462.0" cy="791.2" r="1.2" fill="#ee3344" opacity="0.75"/>
<circle cx="461.2" cy="815.2" r="1.2" fill="#ee3344" opacity="0.75"/>
<circle cx="462.2" cy="822.9" r="1.2" fill="#ee3344" opacity="0.75"/>
<circle cx="462.4" cy="823.2" r="1.2" fill="#ee3344" opacity="0.75"/>
<circle cx="461.7" cy="840.4" r="1.2" fill="#ee3344" opacity="0.75"/>
<circle cx="462.4" cy="837.4" r="1.2" fill="#ee3344" opacity="0.75"/>
<circle cx="462.5" cy="842.9" r="1.2" fill="#ee3344" opacity="0.75"/>
<circle cx="461.5" cy="846.0" r="1.2" fill="#ee3344" opacity="0.75"/>
<circle cx="462.5" cy="847.7" r="1.2" fill="#ee3344" opacity="0.75"/>
<circle cx="462.5" cy="839.7" r="1.2" fill="#ee3344" opacity="0.75"/>
<circle cx="462.2" cy="849.1" r="1.2" fill="#ee3344" opacity="0.75"/>
<circle cx="460.8" cy="845.3" r="1.2" fill="#ee3344" opacity="0.75"/>
<circle cx="461.4" cy="839.5" r="1.2" fill="#ee3344" opacity="0.75"/>
<circle cx="461.9" cy="851.6" r="1.2" fill="#ee3344" opacity="0.75"/>
<circle cx="461.9" cy="850.8" r="1.2" fill="#ee3344" opacity="0.75"/>
<circle cx="462.1" cy="852.6" r="1.2" fill="#ee3344" opacity="0.75"/>
<path d="M477.2 836.7V839.8M477.2 854.2V854.2" stroke="#444" stroke-width="0.7" fill="none"/>
<rect x="474.6" y="839.8" width="5.2" height="14.4" fill="#c3c8f4" stroke="#555" stroke-width="0.8"/>
<path d="M474.6 844.4H479.8" stroke="#222" stroke-width="1.1"/>
<path d="M482.7 801.3V830.5M482.7 852.0V854.2" stroke="#444" stroke-width="0.7" fill="none"/>
<rect x="480.1" y="830.5" width="5.2" height="21.5" fill="#f7b9cc" stroke="#555" stroke-width="0.8"/>
<path d="M480.1 850.5H485.3" stroke="#222" stroke-width="1.1"/>
<circle cx="478.0" cy="756.2" r="1.2" fill="#4a66ee" opacity="0.75"/>
<circle cx="477.1" cy="805.9" r="1.2" fill="#4a66ee" opacity="0.75"/>
<circle cx="476.6" cy="810.6" r="1.2" fill="#4a66ee" opacity="0.75"/>
<circle cx="477.2" cy="848.0" r="1.2" fill="#4a66ee" opacity="0.75"/>
<circle cx="476.8" cy="839.5" r="1.2" fill="#4a66ee" opacity="0.75"/>
<circle cx="477.4" cy="853.0" r="1.2" fill="#4a66ee" opacity="0.75"/>
<circle cx="477.9" cy="846.1" r="1.2" fill="#4a66ee" opacity="0.75"/>
<circle cx="477.1" cy="852.1" r="1.2" fill="#4a66ee" opacity="0.75"/>
<circle cx="476.7" cy="840.3" r="1.2" fill="#4a66ee" opacity="0.75"/>
<circle cx="476.5" cy="854.2" r="1.2" fill="#4a66ee" opacity="0.75"/>
<circle cx="477.2" cy="846.4" r="1.2" fill="#4a66ee" opacity="0.75"/>
<circle cx="477.5" cy="850.3" r="1.2" fill="#4a66ee" opacity="0.75"/>
<circle cx="476.5" cy="849.6" r="1.2" fill="#4a66ee" opacity="0.75"/>
<circle cx="482.4" cy="764.5" r="1.2" fill="#ee3344" opacity="0.75"/>
<circle cx="482.8" cy="771.5" r="1.2" fill="#ee3344" opacity="0.75"/>
<circle cx="482.7" cy="790.6" r="1.2" fill="#ee3344" opacity="0.75"/>
<circle cx="482.9" cy="837.0" r="1.2" fill="#ee3344" opacity="0.75"/>
<circle cx="482.5" cy="813.7" r="1.2" fill="#ee3344" opacity="0.75"/>
<circle cx="482.9" cy="808.4" r="1.2" fill="#ee3344" opacity="0.75"/>
<circle cx="482.8" cy="850.5" r="1.2" fill="#ee3344" opacity="0.75"/>
<circle cx="482.0" cy="829.7" r="1.2" fill="#ee3344" opacity="0.75"/>
<circle cx="483.5" cy="848.8" r="1.2" fill="#ee3344" opacity="0.75"/>
<circle cx="483.0" cy="829.3" r="1.2" fill="#ee3344" opacity="0.75"/>
<circle cx="483.4" cy="809.2" r="1.2" fill="#ee3344" opacity="0.75"/>
<circle cx="483.3" cy="815.2" r="1.2" fill="#ee3344" opacity="0.75"/>
<circle cx="483.3" cy="824.7" r="1.2" fill="#ee3344" opacity="0.75"/>
<circle cx="483.8" cy="835.8" r="1.2" fill="#ee3344" opacity="0.75"/>
<circle cx="482.7" cy="842.4" r="1.2" fill="#ee3344" opacity="0.75"/>
<circle cx="482.7" cy="841.4" r="1.2" fill="#ee3344" opacity="0.75"/>
<circle cx="482.0" cy="836.3" r="1.2" fill="#ee3344" opacity="0.75"/>
<path d="M498.1 769.1V816.1M498.1 854.2V854.2" stroke="#444" stroke-width="0.7" fill="none"/>
<rect x="495.5" y="816.1" width="5.2" height="38.1" fill="#c3c8f4" stroke="#555" stroke-width="0.8"/>
<path d="M495.5 844.4H500.7" stroke="#222" stroke-width="1.1"/>
<path d="M503.6 778.9V813.0M503.6 841.9V854.2" stroke="#444" stroke-width="0.7" fill="none"/>
<rect x="501.0" y="813.0" width="5.2" height="28.9" fill="#f7b9cc" stroke="#555" stroke-width="0.8"/>
<path d="M501.0 836.1H506.2" stroke="#222" stroke-width="1.1"/>
<circle cx="498.6" cy="756.8" r="1.2" fill="#4a66ee" opacity="0.75"/>
<circle cx="498.4" cy="826.7" r="1.2" fill="#4a66ee" opacity="0.75"/>
<circle cx="497.7" cy="819.9" r="1.2" fill="#4a66ee" opacity="0.75"/>
<circle cx="497.5" cy="819.4" r="1.2" fill="#4a66ee" opacity="0.75"/>
<circle cx="498.4" cy="854.0" r="1.2" fill="#4a66ee" opacity="0.75"/>
<circle cx="498.5" cy="788.3" r="1.2" fill="#4a66ee" opacity="0.75"/>
<circle cx="498.7" cy="790.8" r="1.2" fill="#4a66ee" opacity="0.75"/>
<circle cx="497.4" cy="832.4" r="1.2" fill="#4a66ee" opacity="0.75"/>
<circle cx="498.6" cy="838.8" r="1.2" fill="#4a66ee" opacity="0.75"/>
<circle cx="498.6" cy="811.8" r="1.2" fill="#4a66ee" opacity="0.75"/>
<circle cx="497.2" cy="776.7" r="1.2" fill="#4a66ee" opacity="0.75"/>
<circle cx="497.6" cy="802.5" r="1.2" fill="#4a66ee" opacity="0.75"/>
<circle cx="498.2" cy="840.0" r="1.2" fill="#4a66ee" opacity="0.75"/>
<circle cx="497.3" cy="813.2" r="1.2" fill="#4a66ee" opacity="0.75"/>
<circle cx="498.5" cy="810.0" r="1.2" fill="#4a66ee" opacity="0.75"/>
<circle cx="497.5" cy="804.1" r="1.2" fill="#4a66ee" opacity="0.75"/>
<circle cx="498.3" cy="823.7" r="1.2" fill="#4a66ee" opacity="0.75"/>
<circle cx="497.6" cy="821.3" r="1.2" fill="#4a66ee" opacity="0.75"/>
<circle cx="497.4" cy="829.0" r="1.2" fill="#4a66ee" opacity="0.75"/>
<circle cx="503.2" cy="761.4" r="1.2" fill="#ee3344" opacity="0.75"/>
<circle cx="503.7" cy="795.2" r="1.2" fill="#ee3344" opacity="0.75"/>
<circle cx="503.7" cy="816.8" r="1.2" fill="#ee3344" opacity="0.75"/>
<circle cx="503.2" cy="832.9" r="1.2" fill="#ee3344" opacity="0.75"/>
<circle cx="503.2" cy="796.0" r="1.2" fill="#ee3344" opacity="0.75"/>
<circle cx="503.9" cy="830.9" r="1.2" fill="#ee3344" opacity="0.75"/>
<circle cx="503.7" cy="804.7" r="1.2" fill="#ee3344" opacity="0.75"/>
<circle cx="503.4" cy="828.1" r="1.2" fill="#ee3344" opacity="0.75"/>
<circle cx="503.5" cy="807.2" r="1.2" fill="#ee3344" opacity="0.75"/>
<circle cx="503.0" cy="794.2" r="1.2" fill="#ee3344" opacity="0.75"/>
<circle cx="504.0" cy="790.3" r="1.2" fill="#ee3344" opacity="0.75"/>
<circle cx="502.6" cy="784.1" r="1.2" fill="#ee3344" opacity="0.75"/>
<circle cx="503.7" cy="831.6" r="1.2" fill="#ee3344" opacity="0.75"/>
<circle cx="503.4" cy="810.6" r="1.2" fill="#ee3344" opacity="0.75"/>
<circle cx="503.0" cy="789.0" r="1.2" fill="#ee3344" opacity="0.75"/>
<circle cx="503.6" cy="845.3" r="1.2" fill="#ee3344" opacity="0.75"/>
<circle cx="503.6" cy="828.5" r="1.2" fill="#ee3344" opacity="0.75"/>
<circle cx="502.7" cy="781.4" r="1.2" fill="#ee3344" opacity="0.75"/>
<circle cx="503.4" cy="833.7" r="1.2" fill="#ee3344" opacity="0.75"/>
<circle cx="502.9" cy="824.1" r="1.2" fill="#ee3344" opacity="0.75"/>
<circle cx="504.0" cy="812.8" r="1.2" fill="#ee3344" opacity="0.75"/>
<circle cx="503.2" cy="817.1" r="1.2" fill="#ee3344" opacity="0.75"/>
<circle cx="503.2" cy="851.4" r="1.2" fill="#ee3344" opacity="0.75"/>
<path d="M518.7 815.2V838.8M518.7 854.2V854.2" stroke="#444" stroke-width="0.7" fill="none"/>
<rect x="516.1" y="838.8" width="5.2" height="15.4" fill="#c3c8f4" stroke="#555" stroke-width="0.8"/>
<path d="M516.1 847.4H521.3" stroke="#222" stroke-width="1.1"/>
<path d="M524.2 812.1V829.6M524.2 852.0V854.2" stroke="#444" stroke-width="0.7" fill="none"/>
<rect x="521.6" y="829.6" width="5.2" height="22.4" fill="#f7b9cc" stroke="#555" stroke-width="0.8"/>
<path d="M521.6 841.3H526.8" stroke="#222" stroke-width="1.1"/>
<circle cx="517.6" cy="807.5" r="1.2" fill="#4a66ee" opacity="0.75"/>
<circle cx="518.2" cy="809.6" r="1.2" fill="#4a66ee" opacity="0.75"/>
<circle cx="518.2" cy="823.6" r="1.2" fill="#4a66ee" opacity="0.75"/>
<circle cx="519.3" cy="817.0" r="1.2" fill="#4a66ee" opacity="0.75"/>
<circle cx="518.3" cy="822.5" r="1.2" fill="#4a66ee" opacity="0.75"/>
<circle cx="519.0" cy="821.1" r="1.2" fill="#4a66ee" opacity="0.75"/>
<circle cx="517.7" cy="839.5" r="1.2" fill="#4a66ee" opacity="0.75"/>
<circle cx="518.5" cy="848.2" r="1.2" fill="#4a66ee" opacity="0.75"/>
<circle cx="519.2" cy="823.8" r="1.2" fill="#4a66ee" opacity="0.75"/>
<circle cx="519.0" cy="819.5" r="1.2" fill="#4a66ee" opacity="0.75"/>
<circle cx="518.7" cy="836.0" r="1.2" fill="#4a66ee" opacity="0.75"/>
<circle cx="518.0" cy="819.7" r="1.2" fill="#4a66ee" opacity="0.75"/>
<circle cx="519.3" cy="831.0" r="1.2" fill="#4a66ee" opacity="0.75"/>
<circle cx="517.8" cy="844.9" r="1.2" fill="#4a66ee" opacity="0.75"/>
<circle cx="519.4" cy="823.1" r="1.2" fill="#4a66ee" opacity="0.75"/>
<circle cx="519.0" cy="842.5" r="1.2" fill="#4a66ee" opacity="0.75"/>
<circle cx="518.9" cy="836.2" r="1.2" fill="#4a66ee" opacity="0.75"/>
<circle cx="518.6" cy="818.5" r="1.2" fill="#4a66ee" opacity="0.75"/>
<circle cx="517.9" cy="824.6" r="1.2" fill="#4a66ee" opacity="0.75"/>
<circle cx="518.2" cy="838.6" r="1.2" fill="#4a66ee" opacity="0.75"/>
<circle cx="518.8" cy="818.9" r="1.2" fill="#4a66ee" opacity="0.75"/>
<circle cx="518.8" cy="823.1" r="1.2" fill="#4a66ee" opacity="0.75"/>
<circle cx="518.3" cy="837.7" r="1.2" fill="#4a66ee" opacity="0.75"/>
<circle cx="519.1" cy="847.1" r="1.2" fill="#4a66ee" opacity="0.75"/>
<circle cx="517.7" cy="835.5" r="1.2" fill="#4a66ee" opacity="0.75"/>
<circle cx="518.1" cy="841.1" r="1.2" fill="#4a66ee" opacity="0.75"/>
<circle cx="524.7" cy="808.4" r="1.2" fill="#ee3344" opacity="0.75"/>
<circle cx="523.8" cy="815.9" r="1.2" fill="#ee3344" opacity="0.75"/>
<circle cx="524.4" cy="825.8" r="1.2" fill="#ee3344" opacity="0.75"/>
<circle cx="523.6" cy="845.5" r="1.2" fill="#ee3344" opacity="0.75"/>
<circle cx="524.3" cy="843.8" r="1.2" fill="#ee3344" opacity="0.75"/>
<circle cx="524.0" cy="818.4" r="1.2" fill="#ee3344" opacity="0.75"/>
<circle cx="524.5" cy="825.1" r="1.2" fill="#ee3344" opacity="0.75"/>
<circle cx="524.1" cy="816.8" r="1.2" fill="#ee3344" opacity="0.75"/>
<circle cx="523.8" cy="840.0" r="1.2" fill="#ee3344" opacity="0.75"/>
<circle cx="523.7" cy="830.7" r="1.2" fill="#ee3344" opacity="0.75"/>
<circle cx="524.2" cy="821.8" r="1.2" fill="#ee3344" opacity="0.75"/>
<circle cx="524.7" cy="827.8" r="1.2" fill="#ee3344" opacity="0.75"/>
<circle cx="524.4" cy="848.5" r="1.2" fill="#ee3344" opacity="0.75"/>
<circle cx="524.0" cy="830.0" r="1.2" fill="#ee3344" opacity="0.75"/>
<circle cx="523.7" cy="841.2" r="1.2" fill="#ee3344" opacity="0.75"/>
<circle cx="524.8" cy="838.5" r="1.2" fill="#ee3344" opacity="0.75"/>
<circle cx="524.7" cy="832.0" r="1.2" fill="#ee3344" opacity="0.75"/>
<circle cx="523.4" cy="835.5" r="1.2" fill="#ee3344" opacity="0.75"/>
<circle cx="524.4" cy="827.4" r="1.2" fill="#ee3344" opacity="0.75"/>
<circle cx="524.5" cy="820.4" r="1.2" fill="#ee3344" opacity="0.75"/>
<circle cx="524.4" cy="832.9" r="1.2" fill="#ee3344" opacity="0.75"/>
<circle cx="524.9" cy="824.9" r="1.2" fill="#ee3344" opacity="0.75"/>
<circle cx="524.7" cy="826.0" r="1.2" fill="#ee3344" opacity="0.75"/>
<circle cx="523.6" cy="819.9" r="1.2" fill="#ee3344" opacity="0.75"/>
<circle cx="525.0" cy="850.6" r="1.2" fill="#ee3344" opacity="0.75"/>
<circle cx="523.7" cy="830.0" r="1.2" fill="#ee3344" opacity="0.75"/>
<circle cx="523.8" cy="820.5" r="1.2" fill="#ee3344" opacity="0.75"/>
<circle cx="524.9" cy="813.4" r="1.2" fill="#ee3344" opacity="0.75"/>
<circle cx="523.5" cy="821.1" r="1.2" fill="#ee3344" opacity="0.75"/>
<path d="M365.2 781.7H376.2" stroke="#111" stroke-width="2.2"/>
<text x="371.3" y="782.9000000000001" font-size="17" fill="#000" text-anchor="middle" stroke="#000" stroke-width="0.45">*</text>
<path d="M405.1 766.3H416.2" stroke="#111" stroke-width="2.2"/>
<text x="411.25" y="767.5" font-size="17" fill="#000" text-anchor="middle" stroke="#000" stroke-width="0.45">**</text>
<path d="M425.4 794.3H436.2" stroke="#111" stroke-width="2.2"/>
<text x="431.4" y="795.5" font-size="17" fill="#000" text-anchor="middle" stroke="#000" stroke-width="0.45">*</text>
<path d="M514.2 804.1H525.3" stroke="#111" stroke-width="2.2"/>
<text x="520.35" y="805.3000000000001" font-size="17" fill="#000" text-anchor="middle" stroke="#000" stroke-width="0.45">*</text>
<text x="335.5" y="791" font-size="18.2" fill="#000" text-anchor="middle" transform="rotate(-90 335.5 791)" >%time</text>
<text x="339" y="862.5" font-size="13" fill="#000" text-anchor="middle" transform="rotate(-90 339 862.5)" >stage</text>
</g>
<g id="panelF">
<text x="572.8" y="501.1" font-size="18.15" fill="#000" text-anchor="start" >(a) Seizure-like behaviors</text>
<text x="571.9" y="705.3" font-size="18.1" fill="#000" text-anchor="start" >(b) Center-dwell tendency</text>
<rect x="642.8" y="527.6" width="124.5" height="128.5" fill="#fff" stroke="#3c4142" stroke-width="1.9"/>
<rect x="645.8" y="725.1" width="119" height="128.7" fill="#fff" stroke="#3c4142" stroke-width="1.9"/>
<path d="M638.8 537.2H641.9" stroke="#444" stroke-width="1"/>
<text x="640.3" y="542.4999999999999" font-size="14.9" fill="#6b7374" text-anchor="end" >200</text>
<path d="M638.8 565.7H641.9" stroke="#444" stroke-width="1"/>
<text x="640.3" y="571.0249999999999" font-size="14.9" fill="#6b7374" text-anchor="end" >150</text>
<path d="M638.8 594.2H641.9" stroke="#444" stroke-width="1"/>
<text x="640.3" y="599.55" font-size="14.9" fill="#6b7374" text-anchor="end" >100</text>
<path d="M638.8 622.8H641.9" stroke="#444" stroke-width="1"/>
<text x="640.3" y="628.0749999999999" font-size="14.9" fill="#6b7374" text-anchor="end" >50</text>
<path d="M638.8 651.3H641.9" stroke="#444" stroke-width="1"/>
<text x="640.3" y="656.5999999999999" font-size="14.9" fill="#6b7374" text-anchor="end" >0</text>
<path d="M641.8 731.2H644.9" stroke="#444" stroke-width="1"/>
<text x="642.3" y="736.55" font-size="14.9" fill="#6b7374" text-anchor="end" >50</text>
<path d="M641.8 754.7H644.9" stroke="#444" stroke-width="1"/>
<text x="642.3" y="760.0" font-size="14.9" fill="#6b7374" text-anchor="end" >40</text>
<path d="M641.8 778.1H644.9" stroke="#444" stroke-width="1"/>
<text x="642.3" y="783.4499999999999" font-size="14.9" fill="#6b7374" text-anchor="end" >30</text>
<path d="M641.8 801.6H644.9" stroke="#444" stroke-width="1"/>
<text x="642.3" y="806.9" font-size="14.9" fill="#6b7374" text-anchor="end" >20</text>
<path d="M641.8 825.0H644.9" stroke="#444" stroke-width="1"/>
<text x="642.3" y="830.3499999999999" font-size="14.9" fill="#6b7374" text-anchor="end" >10</text>
<path d="M641.8 848.5H644.9" stroke="#444" stroke-width="1"/>
<text x="642.3" y="853.8" font-size="14.9" fill="#6b7374" text-anchor="end" >0</text>
<path d="M665.2 657V660" stroke="#444" stroke-width="1"/>
<path d="M704.8 657V660" stroke="#444" stroke-width="1"/>
<path d="M744 657V660" stroke="#444" stroke-width="1"/>
<path d="M666.7 854.7V857.7" stroke="#444" stroke-width="1"/>
<path d="M705.2 854.7V857.7" stroke="#444" stroke-width="1"/>
<path d="M743.4 854.7V857.7" stroke="#444" stroke-width="1"/>
<path d="M662.6 531.5L701.5 577.1L747.8 564.6" stroke="#aeb3b3" stroke-width="1.05" stroke-dasharray="3.4 2.2" fill="none"/>
<path d="M661.2 561.2L700.9 619.9L739.9 600.5" stroke="#aeb3b3" stroke-width="1.05" stroke-dasharray="3.4 2.2" fill="none"/>
<path d="M664.2 577.1L701.9 628.5L745.1 613.6" stroke="#aeb3b3" stroke-width="1.05" stroke-dasharray="3.4 2.2" fill="none"/>
<path d="M661.7 598.8L709.1 632.5L745.7 617.1" stroke="#aeb3b3" stroke-width="1.05" stroke-dasharray="3.4 2.2" fill="none"/>
<path d="M660.9 605.7L708.1 637.0L744.1 625.6" stroke="#aeb3b3" stroke-width="1.05" stroke-dasharray="3.4 2.2" fill="none"/>
<path d="M664.2 612.5L707.9 642.7L740.8 630.8" stroke="#aeb3b3" stroke-width="1.05" stroke-dasharray="3.4 2.2" fill="none"/>
<path d="M669.4 615.9L707.8 644.5L743.7 634.2" stroke="#aeb3b3" stroke-width="1.05" stroke-dasharray="3.4 2.2" fill="none"/>
<path d="M668.2 628.5L701.7 645.6L739.9 637.0" stroke="#aeb3b3" stroke-width="1.05" stroke-dasharray="3.4 2.2" fill="none"/>
<path d="M667.9 638.7L702.9 646.7L748.3 641.0" stroke="#aeb3b3" stroke-width="1.05" stroke-dasharray="3.4 2.2" fill="none"/>
<path d="M662.4 646.7L706.1 649.6L747.7 642.7" stroke="#aeb3b3" stroke-width="1.05" stroke-dasharray="3.4 2.2" fill="none"/>
<path d="M665.6 651.3L707.1 651.3L744.5 650.2" stroke="#aeb3b3" stroke-width="1.05" stroke-dasharray="3.4 2.2" fill="none"/>
<path d="M663.0 611.4L708.3 639.9L742.0 651.3" stroke="#aeb3b3" stroke-width="1.05" stroke-dasharray="3.4 2.2" fill="none"/>
<path d="M665.2 531.0V587.3M665.2 633.4V651.3" stroke="#666" stroke-width="0.9" fill="none"/>
<rect x="655.3" y="587.3" width="19.9" height="46.1" fill="#e2e2e2" stroke="#666" stroke-width="0.9"/>
<path d="M655.3 612.3H675.2" stroke="#333" stroke-width="1.8"/>
<path d="M704.8 620.0V632.5M704.8 650.4V651.3" stroke="#4a4a4a" stroke-width="0.9" fill="none"/>
<rect x="695.1" y="632.5" width="19.3" height="17.9" fill="#8fe25a" stroke="#4a4a4a" stroke-width="0.9"/>
<path d="M695.1 644.7H714.4" stroke="#222" stroke-width="1.8"/>
<path d="M744.1 600.6V613.4M744.1 642.5V651.3" stroke="#4a4a4a" stroke-width="0.9" fill="none"/>
<rect x="734.3" y="613.4" width="19.7" height="29.1" fill="#a9d3f5" stroke="#4a4a4a" stroke-width="0.9"/>
<path d="M734.3 630.8H754.0" stroke="#222" stroke-width="1.8"/>
<circle cx="662.6" cy="531.5" r="1.6" fill="#6f7575" opacity="0.7"/>
<circle cx="701.5" cy="577.1" r="1.6" fill="#6f7575" opacity="0.7"/>
<circle cx="747.8" cy="564.6" r="1.6" fill="#6f7575" opacity="0.6"/>
<circle cx="661.2" cy="561.2" r="1.6" fill="#6f7575" opacity="0.7"/>
<circle cx="700.9" cy="619.9" r="1.6" fill="#6f7575" opacity="0.7"/>
<circle cx="739.9" cy="600.5" r="1.6" fill="#6f7575" opacity="0.6"/>
<circle cx="664.2" cy="577.1" r="1.6" fill="#6f7575" opacity="0.7"/>
<circle cx="701.9" cy="628.5" r="1.6" fill="#6f7575" opacity="0.7"/>
<circle cx="745.1" cy="613.6" r="1.6" fill="#6f7575" opacity="0.6"/>
<circle cx="661.7" cy="598.8" r="1.6" fill="#6f7575" opacity="0.7"/>
<circle cx="709.1" cy="632.5" r="1.6" fill="#6f7575" opacity="0.7"/>
<circle cx="745.7" cy="617.1" r="1.6" fill="#6f7575" opacity="0.6"/>
<circle cx="660.9" cy="605.7" r="1.6" fill="#6f7575" opacity="0.7"/>
<circle cx="708.1" cy="637.0" r="1.6" fill="#6f7575" opacity="0.7"/>
<circle cx="744.1" cy="625.6" r="1.6" fill="#6f7575" opacity="0.6"/>
<circle cx="664.2" cy="612.5" r="1.6" fill="#6f7575" opacity="0.7"/>
<circle cx="707.9" cy="642.7" r="1.6" fill="#6f7575" opacity="0.7"/>
<circle cx="740.8" cy="630.8" r="1.6" fill="#6f7575" opacity="0.6"/>
<circle cx="669.4" cy="615.9" r="1.6" fill="#6f7575" opacity="0.7"/>
<circle cx="707.8" cy="644.5" r="1.6" fill="#6f7575" opacity="0.7"/>
<circle cx="743.7" cy="634.2" r="1.6" fill="#6f7575" opacity="0.6"/>
<circle cx="668.2" cy="628.5" r="1.6" fill="#6f7575" opacity="0.7"/>
<circle cx="701.7" cy="645.6" r="1.6" fill="#6f7575" opacity="0.7"/>
<circle cx="739.9" cy="637.0" r="1.6" fill="#6f7575" opacity="0.6"/>
<circle cx="667.9" cy="638.7" r="1.6" fill="#6f7575" opacity="0.7"/>
<circle cx="702.9" cy="646.7" r="1.6" fill="#6f7575" opacity="0.7"/>
<circle cx="748.3" cy="641.0" r="1.6" fill="#6f7575" opacity="0.6"/>
<circle cx="662.4" cy="646.7" r="1.6" fill="#6f7575" opacity="0.7"/>
<circle cx="706.1" cy="649.6" r="1.6" fill="#6f7575" opacity="0.7"/>
<circle cx="747.7" cy="642.7" r="1.6" fill="#6f7575" opacity="0.6"/>
<circle cx="665.6" cy="651.3" r="1.6" fill="#6f7575" opacity="0.7"/>
<circle cx="707.1" cy="651.3" r="1.6" fill="#6f7575" opacity="0.7"/>
<circle cx="744.5" cy="650.2" r="1.6" fill="#6f7575" opacity="0.6"/>
<circle cx="663.0" cy="611.4" r="1.6" fill="#6f7575" opacity="0.7"/>
<circle cx="708.3" cy="639.9" r="1.6" fill="#6f7575" opacity="0.7"/>
<circle cx="742.0" cy="651.3" r="1.6" fill="#6f7575" opacity="0.6"/>
<path d="M673.8 556.6H737" stroke="#111" stroke-width="2" stroke-dasharray="10.5 3.4"/>
<text x="709.3" y="546.6" font-size="14" fill="#000" text-anchor="middle" >ns</text>
<path d="M681.7 608.3H703.6" stroke="#111" stroke-width="1.9" stroke-dasharray="8 5.5"/>
<text x="693.7" y="609.5" font-size="17" fill="#000" text-anchor="middle" stroke="#000" stroke-width="0.45">*</text>
<text x="612.9" y="582.2" font-size="18" fill="#000" text-anchor="middle" transform="rotate(-90 612.9 582.2)" >seconds</text>
<text x="658.5" y="672.1" font-size="13.7" fill="#000" text-anchor="middle" >before</text>
<text x="709.5" y="672.1" font-size="13.8" fill="#5fe82c" text-anchor="middle" >KBr</text>
<text x="748" y="672.1" font-size="13.8" fill="#72d6f8" text-anchor="middle" >wash</text>
<text x="658.5" y="871.4" font-size="13.7" fill="#000" text-anchor="middle" >before</text>
<text x="709.5" y="871.4" font-size="13.8" fill="#5fe82c" text-anchor="middle" >KBr</text>
<text x="748" y="871.4" font-size="13.8" fill="#72d6f8" text-anchor="middle" >wash</text>
<path d="M670.8 728.9L700.7 728.9L742.0 785.2" stroke="#aeb3b3" stroke-width="1.05" stroke-dasharray="3.4 2.2" fill="none"/>
<path d="M667.4 728.9L706.5 820.4L745.9 768.8" stroke="#aeb3b3" stroke-width="1.05" stroke-dasharray="3.4 2.2" fill="none"/>
<path d="M670.5 785.2L703.0 796.9L741.6 803.9" stroke="#aeb3b3" stroke-width="1.05" stroke-dasharray="3.4 2.2" fill="none"/>
<path d="M670.2 792.2L705.5 825.0L744.0 778.1" stroke="#aeb3b3" stroke-width="1.05" stroke-dasharray="3.4 2.2" fill="none"/>
<path d="M666.8 796.9L704.9 806.3L747.4 820.4" stroke="#aeb3b3" stroke-width="1.05" stroke-dasharray="3.4 2.2" fill="none"/>
<path d="M665.8 813.3L703.6 815.7L739.4 792.2" stroke="#aeb3b3" stroke-width="1.05" stroke-dasharray="3.4 2.2" fill="none"/>
<path d="M667.7 815.7L710.2 834.4L739.0 847.3" stroke="#aeb3b3" stroke-width="1.05" stroke-dasharray="3.4 2.2" fill="none"/>
<path d="M666.0 820.4L702.2 808.6L740.7 803.9" stroke="#aeb3b3" stroke-width="1.05" stroke-dasharray="3.4 2.2" fill="none"/>
<path d="M663.3 829.7L704.3 822.7L746.1 846.2" stroke="#aeb3b3" stroke-width="1.05" stroke-dasharray="3.4 2.2" fill="none"/>
<path d="M664.8 839.1L702.2 829.7L744.6 848.5" stroke="#aeb3b3" stroke-width="1.05" stroke-dasharray="3.4 2.2" fill="none"/>
<path d="M669.8 848.5L706.5 848.5L740.8 848.5" stroke="#aeb3b3" stroke-width="1.05" stroke-dasharray="3.4 2.2" fill="none"/>
<path d="M662.1 813.3L703.0 837.9L741.7 789.9" stroke="#aeb3b3" stroke-width="1.05" stroke-dasharray="3.4 2.2" fill="none"/>
<path d="M666.9 785.4V792.1M666.9 824.7V848.5" stroke="#666" stroke-width="0.9" fill="none"/>
<rect x="657.1" y="792.1" width="19.5" height="32.6" fill="#e2e2e2" stroke="#666" stroke-width="0.9"/>
<path d="M657.1 813.7H676.6" stroke="#333" stroke-width="1.8"/>
<path d="M705.0 797.8V808.0M705.0 830.3V848.5" stroke="#4a4a4a" stroke-width="0.9" fill="none"/>
<rect x="695.3" y="808.0" width="19.5" height="22.3" fill="#8fe25a" stroke="#4a4a4a" stroke-width="0.9"/>
<path d="M695.3 821.3H714.8" stroke="#222" stroke-width="1.8"/>
<path d="M743.2 768.9V787.3M743.2 845.3V848.5" stroke="#4a4a4a" stroke-width="0.9" fill="none"/>
<rect x="733.5" y="787.3" width="19.5" height="58.0" fill="#a9d3f5" stroke="#4a4a4a" stroke-width="0.9"/>
<path d="M733.5 804.3H753.0" stroke="#222" stroke-width="1.8"/>
<circle cx="670.8" cy="728.9" r="1.6" fill="#6f7575" opacity="0.7"/>
<circle cx="700.7" cy="728.9" r="1.6" fill="#6f7575" opacity="0.7"/>
<circle cx="742.0" cy="785.2" r="1.6" fill="#6f7575" opacity="0.6"/>
<circle cx="667.4" cy="728.9" r="1.6" fill="#6f7575" opacity="0.7"/>
<circle cx="706.5" cy="820.4" r="1.6" fill="#6f7575" opacity="0.7"/>
<circle cx="745.9" cy="768.8" r="1.6" fill="#6f7575" opacity="0.6"/>
<circle cx="670.5" cy="785.2" r="1.6" fill="#6f7575" opacity="0.7"/>
<circle cx="703.0" cy="796.9" r="1.6" fill="#6f7575" opacity="0.7"/>
<circle cx="741.6" cy="803.9" r="1.6" fill="#6f7575" opacity="0.6"/>
<circle cx="670.2" cy="792.2" r="1.6" fill="#6f7575" opacity="0.7"/>
<circle cx="705.5" cy="825.0" r="1.6" fill="#6f7575" opacity="0.7"/>
<circle cx="744.0" cy="778.1" r="1.6" fill="#6f7575" opacity="0.6"/>
<circle cx="666.8" cy="796.9" r="1.6" fill="#6f7575" opacity="0.7"/>
<circle cx="704.9" cy="806.3" r="1.6" fill="#6f7575" opacity="0.7"/>
<circle cx="747.4" cy="820.4" r="1.6" fill="#6f7575" opacity="0.6"/>
<circle cx="665.8" cy="813.3" r="1.6" fill="#6f7575" opacity="0.7"/>
<circle cx="703.6" cy="815.7" r="1.6" fill="#6f7575" opacity="0.7"/>
<circle cx="739.4" cy="792.2" r="1.6" fill="#6f7575" opacity="0.6"/>
<circle cx="667.7" cy="815.7" r="1.6" fill="#6f7575" opacity="0.7"/>
<circle cx="710.2" cy="834.4" r="1.6" fill="#6f7575" opacity="0.7"/>
<circle cx="739.0" cy="847.3" r="1.6" fill="#6f7575" opacity="0.6"/>
<circle cx="666.0" cy="820.4" r="1.6" fill="#6f7575" opacity="0.7"/>
<circle cx="702.2" cy="808.6" r="1.6" fill="#6f7575" opacity="0.7"/>
<circle cx="740.7" cy="803.9" r="1.6" fill="#6f7575" opacity="0.6"/>
<circle cx="663.3" cy="829.7" r="1.6" fill="#6f7575" opacity="0.7"/>
<circle cx="704.3" cy="822.7" r="1.6" fill="#6f7575" opacity="0.7"/>
<circle cx="746.1" cy="846.2" r="1.6" fill="#6f7575" opacity="0.6"/>
<circle cx="664.8" cy="839.1" r="1.6" fill="#6f7575" opacity="0.7"/>
<circle cx="702.2" cy="829.7" r="1.6" fill="#6f7575" opacity="0.7"/>
<circle cx="744.6" cy="848.5" r="1.6" fill="#6f7575" opacity="0.6"/>
<circle cx="669.8" cy="848.5" r="1.6" fill="#6f7575" opacity="0.7"/>
<circle cx="706.5" cy="848.5" r="1.6" fill="#6f7575" opacity="0.7"/>
<circle cx="740.8" cy="848.5" r="1.6" fill="#6f7575" opacity="0.6"/>
<circle cx="662.1" cy="813.3" r="1.6" fill="#6f7575" opacity="0.7"/>
<circle cx="703.0" cy="837.9" r="1.6" fill="#6f7575" opacity="0.7"/>
<circle cx="741.7" cy="789.9" r="1.6" fill="#6f7575" opacity="0.6"/>
<text x="614.1" y="791" font-size="18.5" fill="#000" text-anchor="middle" transform="rotate(-90 614.1 791)" >%time</text>
</g>
</svg>
</body></html>
